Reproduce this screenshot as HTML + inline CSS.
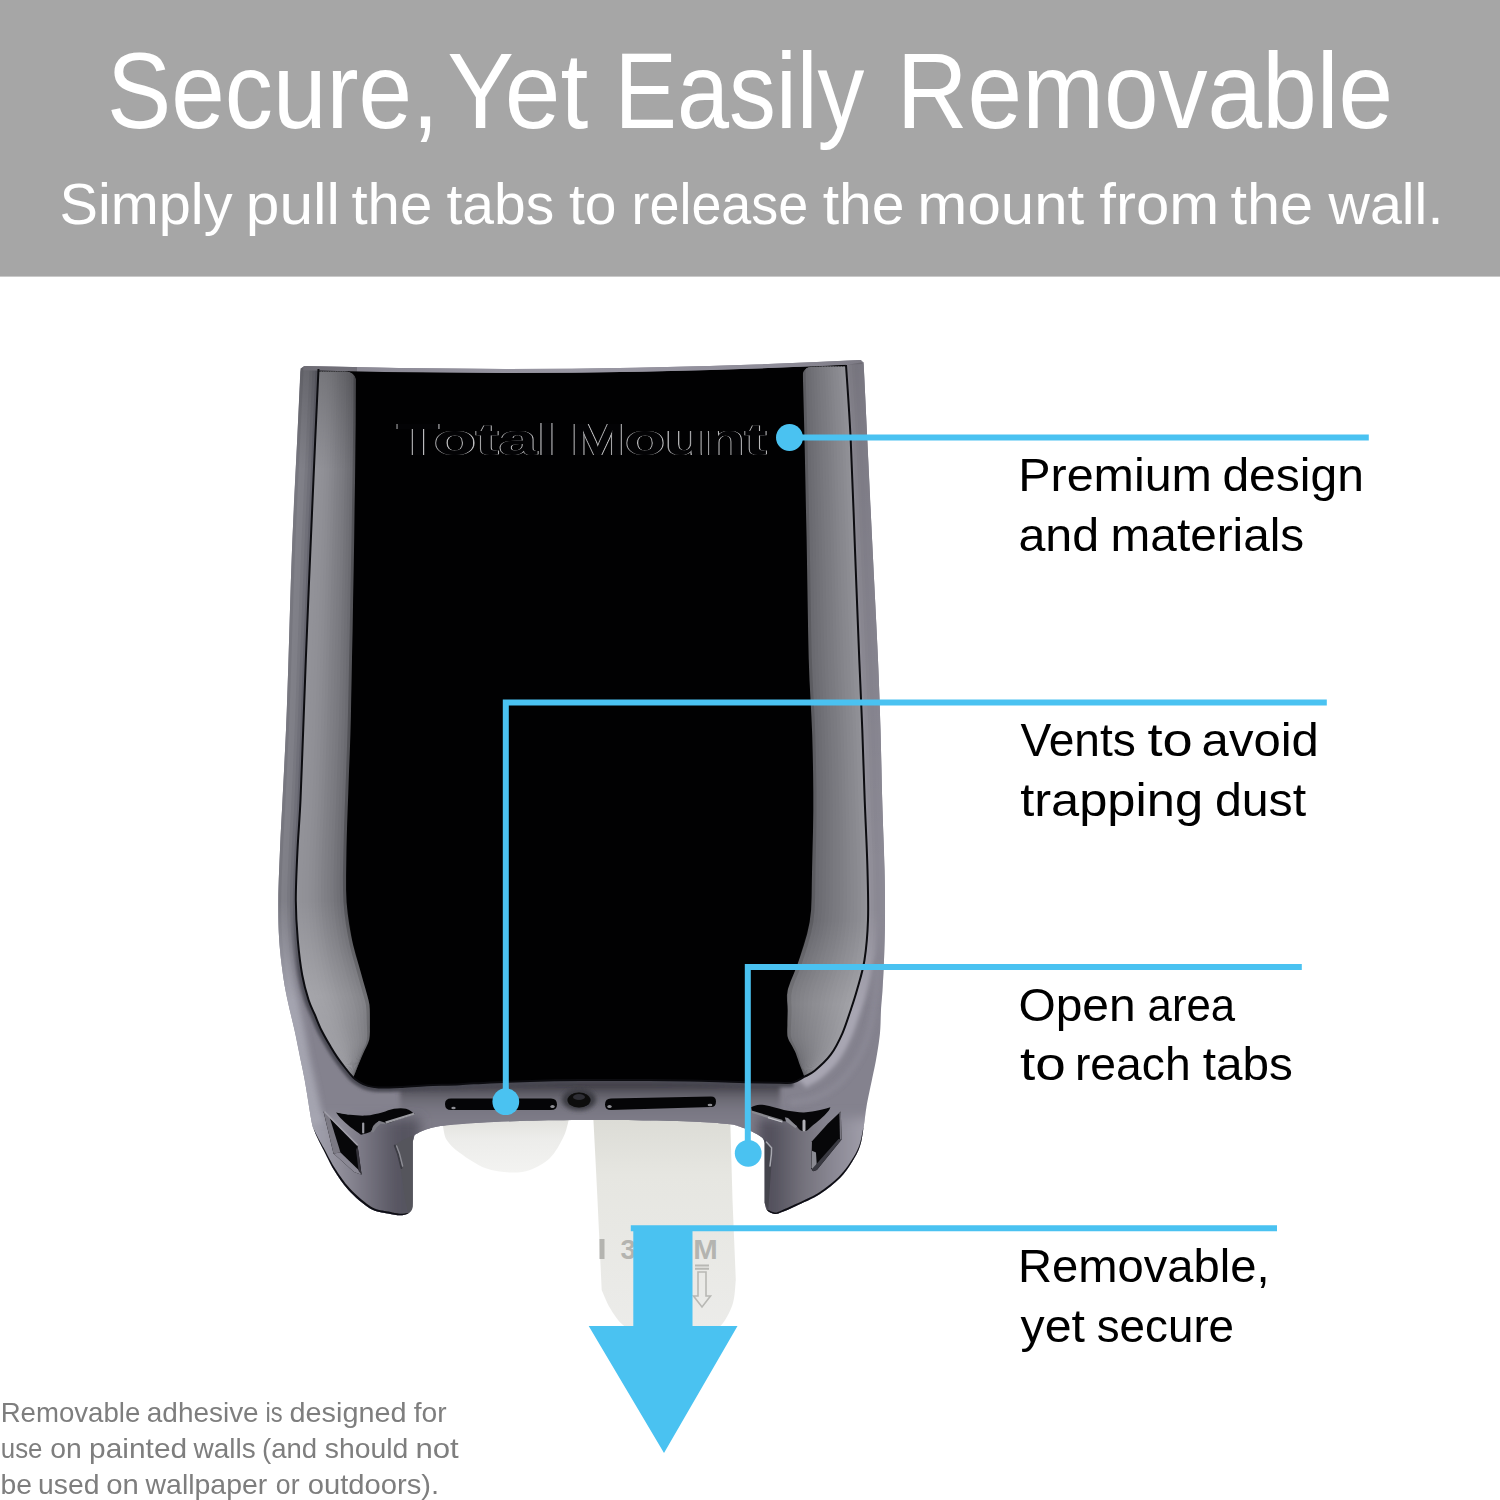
<!DOCTYPE html>
<html>
<head>
<meta charset="utf-8">
<title>Secure, Yet Easily Removable</title>
<style>
html,body{margin:0;padding:0;background:#fff;}
body{width:1500px;height:1500px;overflow:hidden;position:relative;font-family:"Liberation Sans",sans-serif;}
svg{position:absolute;left:0;top:0;display:block;}
text{font-family:"Liberation Sans",sans-serif;}
#hdr,#labels,#foot{filter:grayscale(1);}
</style>
</head>
<body>
<svg width="1500" height="1500" viewBox="0 0 1500 1500">
<defs>
<filter id="b04" x="-10%" y="-10%" width="120%" height="120%"><feGaussianBlur stdDeviation="0.4"/></filter>
<filter id="b06" x="-10%" y="-10%" width="120%" height="120%"><feGaussianBlur stdDeviation="0.6"/></filter>
<filter id="b3" x="-30%" y="-30%" width="160%" height="160%"><feGaussianBlur stdDeviation="3"/></filter>
<filter id="b2" x="-20%" y="-20%" width="140%" height="140%"><feGaussianBlur stdDeviation="2"/></filter>
<filter id="b6" x="-50%" y="-50%" width="200%" height="200%"><feGaussianBlur stdDeviation="6"/></filter>
<linearGradient id="gFadeL" x1="0" y1="900" x2="0" y2="1000" gradientUnits="userSpaceOnUse"><stop offset="0" stop-color="#fff"/><stop offset="1" stop-color="#000"/></linearGradient>
<mask id="mFadeL" maskUnits="userSpaceOnUse" x="270" y="350" width="60" height="660"><rect x="270" y="350" width="60" height="660" fill="url(#gFadeL)"/></mask>
<linearGradient id="gFadeR" x1="0" y1="910" x2="0" y2="1010" gradientUnits="userSpaceOnUse"><stop offset="0" stop-color="#fff"/><stop offset="1" stop-color="#000"/></linearGradient>
<mask id="mFadeR" maskUnits="userSpaceOnUse" x="840" y="350" width="60" height="670"><rect x="840" y="350" width="60" height="670" fill="url(#gFadeR)"/></mask>
<linearGradient id="gDarkTop" x1="0" y1="362" x2="0" y2="870" gradientUnits="userSpaceOnUse"><stop offset="0" stop-color="#000" stop-opacity=".14"/><stop offset=".15" stop-color="#000" stop-opacity=".1"/><stop offset=".65" stop-color="#000" stop-opacity=".04"/><stop offset="1" stop-color="#000" stop-opacity="0"/></linearGradient>
<linearGradient id="gLegL" x1="305" y1="0" x2="398" y2="0" gradientUnits="userSpaceOnUse"><stop offset="0" stop-color="#a8a8b4"/><stop offset=".4" stop-color="#8e8c98"/><stop offset="1" stop-color="#565460"/></linearGradient>
<linearGradient id="gLegR" x1="772" y1="0" x2="872" y2="0" gradientUnits="userSpaceOnUse"><stop offset="0" stop-color="#52505c"/><stop offset=".3" stop-color="#73717b"/><stop offset=".7" stop-color="#908e9a"/><stop offset="1" stop-color="#a4a2ae"/></linearGradient>
<filter id="b15" x="-20%" y="-20%" width="140%" height="140%"><feGaussianBlur stdDeviation="1.5"/></filter>
<linearGradient id="gLiftL" x1="0" y1="900" x2="0" y2="1060" gradientUnits="userSpaceOnUse"><stop offset="0" stop-color="#fff" stop-opacity="0"/><stop offset=".6" stop-color="#fff" stop-opacity=".17"/><stop offset="1" stop-color="#fff" stop-opacity=".1"/></linearGradient>
<linearGradient id="gLiftR" x1="0" y1="920" x2="0" y2="1060" gradientUnits="userSpaceOnUse"><stop offset="0" stop-color="#fff" stop-opacity="0"/><stop offset=".6" stop-color="#fff" stop-opacity=".15"/><stop offset="1" stop-color="#fff" stop-opacity=".05"/></linearGradient>
<linearGradient id="gDarkTopL" x1="0" y1="366" x2="0" y2="470" gradientUnits="userSpaceOnUse"><stop offset="0" stop-color="#000" stop-opacity=".2"/><stop offset=".4" stop-color="#000" stop-opacity=".12"/><stop offset="1" stop-color="#000" stop-opacity="0"/></linearGradient>
<clipPath id="cBL"><path d="M290 371.5H344.5Q356.5 371.5 356.5 384V900H400V1100H290Z"/></clipPath>
<clipPath id="cBR"><path d="M900 366.5H814Q802.2 366.5 802.2 378V900H760V1100H900Z"/></clipPath>
<clipPath id="cSil"><path d="M306.5 366.1Q580 374 859 360Q863.4 360 863.7 364.5L867.3 440.0C868.2 458.3 870.8 513.3 872.6 550.0C874.4 586.7 876.7 630.0 878.0 660.0C879.3 690.0 879.8 706.7 880.5 730.0C881.2 753.3 881.5 776.7 882.2 800.0C882.9 823.3 884.0 850.0 884.5 870.0C885.0 890.0 885.1 905.0 885.0 920.0C884.9 935.0 884.4 948.3 884.0 960.0C883.6 971.7 883.0 981.7 882.5 990.0C882.0 998.3 881.4 1002.8 881.0 1010.0C880.6 1017.2 880.8 1024.7 880.0 1033.0C879.2 1041.3 877.4 1052.2 876.0 1060.0C874.6 1067.8 873.5 1072.2 871.9 1080.0C870.3 1087.8 867.9 1098.7 866.5 1106.7C865.1 1114.7 864.6 1121.5 863.5 1128.0C862.4 1134.5 861.9 1140.3 860.0 1146.0C858.1 1151.7 855.3 1156.7 852.0 1162.0C848.7 1167.3 845.3 1172.7 840.0 1178.0C834.7 1183.3 827.3 1189.3 820.0 1194.0C812.7 1198.7 802.3 1203.0 796.0 1206.0C789.7 1209.0 785.5 1210.7 782.0 1212.0C778.5 1213.3 777.2 1214.2 774.8 1213.9C772.3 1213.7 769.0 1212.4 767.3 1210.5C765.6 1208.6 765.1 1204.0 764.7 1202.7L764.7 1143L764.7 1143.0C764.2 1142.1 764.2 1139.6 762.0 1137.6C759.8 1135.6 754.8 1133.0 751.3 1131.2C747.8 1129.4 744.2 1128.2 740.7 1127.0C737.2 1125.8 736.8 1125.1 730.0 1124.3C723.2 1123.5 713.3 1122.6 700.0 1122.0C686.7 1121.4 670.0 1120.8 650.0 1120.5C630.0 1120.2 601.7 1119.9 580.0 1120.0C558.3 1120.1 536.7 1120.5 520.0 1121.0C503.3 1121.5 492.2 1122.0 480.0 1122.7C467.8 1123.4 455.6 1124.2 446.7 1125.3C437.8 1126.4 432.1 1127.7 426.7 1129.3C421.3 1130.9 416.5 1134.0 414.5 1135.0L412.7 1142L412.7 1200L412.7 1200.0C412.6 1201.3 412.8 1205.8 412.0 1208.0C411.2 1210.2 410.0 1212.3 408.0 1213.5C406.0 1214.7 403.3 1215.3 400.0 1215.3C396.7 1215.3 393.0 1214.6 388.0 1213.5C383.0 1212.4 376.6 1212.4 370.0 1208.5C363.4 1204.6 354.4 1196.4 348.4 1190.0C342.4 1183.6 338.1 1176.7 334.0 1170.0C329.9 1163.3 326.2 1155.0 323.6 1150.0C321.0 1145.0 320.1 1143.3 318.5 1140.0C316.9 1136.7 315.2 1133.3 314.0 1130.0C312.8 1126.7 312.9 1128.3 311.3 1120.0C309.8 1111.7 306.6 1090.5 304.7 1080.0C302.8 1069.5 301.7 1065.3 300.0 1057.0C298.3 1048.7 296.6 1039.5 294.5 1030.0C292.4 1020.5 289.4 1009.2 287.5 1000.0C285.6 990.8 284.4 985.0 283.0 975.0C281.6 965.0 280.0 952.5 279.2 940.0C278.4 927.5 278.2 915.0 278.3 900.0C278.4 885.0 279.3 866.7 280.0 850.0C280.7 833.3 281.5 820.0 282.5 800.0C283.5 780.0 285.0 753.3 286.0 730.0C287.0 706.7 287.5 690.0 288.5 660.0C289.5 630.0 290.6 586.7 292.0 550.0C293.4 513.3 296.3 458.3 297.2 440.0L300.3 372Q300.5 366.1 306.5 366.1Z"/></clipPath>
<linearGradient id="gTabL" x1="0" y1="1120" x2="0" y2="1172" gradientUnits="userSpaceOnUse"><stop offset="0" stop-color="#e2e2de"/><stop offset=".35" stop-color="#ececea"/><stop offset="1" stop-color="#f3f3f1"/></linearGradient>
<linearGradient id="gStrip" x1="0" y1="1120" x2="0" y2="1340" gradientUnits="userSpaceOnUse"><stop offset="0" stop-color="#dcdcd6"/><stop offset=".25" stop-color="#e6e6e1"/><stop offset="1" stop-color="#ececea"/></linearGradient>
<linearGradient id="gCentre" x1="0" y1="1081" x2="0" y2="1121" gradientUnits="userSpaceOnUse"><stop offset="0" stop-color="#34323a"/><stop offset=".15" stop-color="#48464e"/><stop offset=".3" stop-color="#5c5a64"/><stop offset=".45" stop-color="#6c6a74"/><stop offset=".7" stop-color="#787682"/><stop offset="1" stop-color="#7e7c88"/></linearGradient>
<linearGradient id="gRim" x1="300" y1="0" x2="864" y2="0" gradientUnits="userSpaceOnUse"><stop offset="0" stop-color="#8a8892"/><stop offset=".15" stop-color="#8e8c98"/><stop offset=".5" stop-color="#9a98a4"/><stop offset=".85" stop-color="#8e8c98"/><stop offset="1" stop-color="#7c7a84"/></linearGradient>
<linearGradient id="gLL" x1="312" y1="1000" x2="372" y2="1020" gradientUnits="userSpaceOnUse"><stop offset="0" stop-color="#828288"/><stop offset=".5" stop-color="#8e8e94"/><stop offset="1" stop-color="#7a7a80"/></linearGradient>
<linearGradient id="gLR" x1="787" y1="1030" x2="850" y2="1010" gradientUnits="userSpaceOnUse"><stop offset="0" stop-color="#6c6c72"/><stop offset=".5" stop-color="#828288"/><stop offset="1" stop-color="#707076"/></linearGradient>
</defs>
<!-- header -->
<rect x="0" y="0" width="1500" height="276.6" fill="#a6a6a6"/>
<g id="hdr" fill="#fff">
<g font-size="107">
<text x="107.00" y="128.3" textLength="331.78" lengthAdjust="spacingAndGlyphs">Secure,</text>
<text x="447.19" y="128.3" textLength="141.05" lengthAdjust="spacingAndGlyphs">Yet</text>
<text x="614.52" y="128.3" textLength="249.85" lengthAdjust="spacingAndGlyphs">Easily</text>
<text x="896.75" y="128.3" textLength="496.34" lengthAdjust="spacingAndGlyphs">Removable</text>
</g>
<g font-size="57">
<text x="59.46" y="223.6" textLength="173.07" lengthAdjust="spacingAndGlyphs">Simply</text>
<text x="245.75" y="223.6" textLength="94.21" lengthAdjust="spacingAndGlyphs">pull</text>
<text x="351.48" y="223.6" textLength="80.81" lengthAdjust="spacingAndGlyphs">the</text>
<text x="446.50" y="223.6" textLength="107.75" lengthAdjust="spacingAndGlyphs">tabs</text>
<text x="569.00" y="223.6" textLength="47.55" lengthAdjust="spacingAndGlyphs">to</text>
<text x="631.52" y="223.6" textLength="176.67" lengthAdjust="spacingAndGlyphs">release</text>
<text x="822.67" y="223.6" textLength="81.86" lengthAdjust="spacingAndGlyphs">the</text>
<text x="917.39" y="223.6" textLength="166.86" lengthAdjust="spacingAndGlyphs">mount</text>
<text x="1099.35" y="223.6" textLength="119.86" lengthAdjust="spacingAndGlyphs">from</text>
<text x="1230.46" y="223.6" textLength="82.59" lengthAdjust="spacingAndGlyphs">the</text>
<text x="1328.40" y="223.6" textLength="114.97" lengthAdjust="spacingAndGlyphs">wall.</text>
</g>
</g>
<!-- PRODUCT -->
<g id="product">
<path d="M440.0 1118.0C440.4 1119.2 441.6 1121.3 442.7 1125.0C443.8 1128.7 443.8 1135.3 446.7 1140.0C449.6 1144.7 453.6 1148.3 460.0 1153.0C466.4 1157.7 476.7 1164.8 485.0 1168.0C493.3 1171.2 502.5 1172.2 510.0 1172.5C517.5 1172.8 523.3 1172.4 530.0 1170.0C536.7 1167.6 544.5 1163.3 550.0 1158.0C555.5 1152.7 560.0 1143.8 563.0 1138.0C566.0 1132.2 567.0 1126.7 568.0 1123.0C569.0 1119.3 568.8 1117.2 569.0 1116.0Z" fill="url(#gTabL)" filter="url(#b06)"/>
<path d="M593 1112L595.5 1160L597.5 1200L601.7 1290L601.7 1290.0C603.1 1293.0 606.5 1302.2 610.0 1308.0C613.5 1313.8 617.2 1320.2 623.0 1325.0C628.8 1329.8 637.7 1334.5 645.0 1337.0C652.3 1339.5 659.5 1340.0 667.0 1340.0C674.5 1340.0 682.5 1338.7 690.0 1337.0C697.5 1335.3 706.5 1332.3 712.0 1330.0C717.5 1327.7 719.5 1327.5 723.0 1323.0C726.5 1318.5 730.9 1310.2 733.0 1303.0C735.1 1295.8 735.3 1283.8 735.8 1280.0L732.5 1200L730 1112Z" fill="url(#gStrip)" filter="url(#b06)"/>
<g fill="#b4b4b0" font-weight="bold" font-size="28"><text x="620.5" y="1259.3">3</text><text x="693.2" y="1259.3" textLength="24.5" lengthAdjust="spacingAndGlyphs">M</text><rect x="599.5" y="1239" width="5" height="20"/></g>
<g fill="none" stroke="#b8b8b4" stroke-width="1.6"><path d="M698 1272V1296H693.5L702 1307L710.5 1296H706V1272Z"/><path d="M695 1265.5H709M695 1268.8H709" stroke-width="2"/></g>
<path d="M306.5 366.1Q580 374 859 360Q863.4 360 863.7 364.5L867.3 440.0C868.2 458.3 870.8 513.3 872.6 550.0C874.4 586.7 876.7 630.0 878.0 660.0C879.3 690.0 879.8 706.7 880.5 730.0C881.2 753.3 881.5 776.7 882.2 800.0C882.9 823.3 884.0 850.0 884.5 870.0C885.0 890.0 885.1 905.0 885.0 920.0C884.9 935.0 884.4 948.3 884.0 960.0C883.6 971.7 883.0 981.7 882.5 990.0C882.0 998.3 881.4 1002.8 881.0 1010.0C880.6 1017.2 880.8 1024.7 880.0 1033.0C879.2 1041.3 877.4 1052.2 876.0 1060.0C874.6 1067.8 873.5 1072.2 871.9 1080.0C870.3 1087.8 867.9 1098.7 866.5 1106.7C865.1 1114.7 864.6 1121.5 863.5 1128.0C862.4 1134.5 861.9 1140.3 860.0 1146.0C858.1 1151.7 855.3 1156.7 852.0 1162.0C848.7 1167.3 845.3 1172.7 840.0 1178.0C834.7 1183.3 827.3 1189.3 820.0 1194.0C812.7 1198.7 802.3 1203.0 796.0 1206.0C789.7 1209.0 785.5 1210.7 782.0 1212.0C778.5 1213.3 777.2 1214.2 774.8 1213.9C772.3 1213.7 769.0 1212.4 767.3 1210.5C765.6 1208.6 765.1 1204.0 764.7 1202.7L764.7 1143L764.7 1143.0C764.2 1142.1 764.2 1139.6 762.0 1137.6C759.8 1135.6 754.8 1133.0 751.3 1131.2C747.8 1129.4 744.2 1128.2 740.7 1127.0C737.2 1125.8 736.8 1125.1 730.0 1124.3C723.2 1123.5 713.3 1122.6 700.0 1122.0C686.7 1121.4 670.0 1120.8 650.0 1120.5C630.0 1120.2 601.7 1119.9 580.0 1120.0C558.3 1120.1 536.7 1120.5 520.0 1121.0C503.3 1121.5 492.2 1122.0 480.0 1122.7C467.8 1123.4 455.6 1124.2 446.7 1125.3C437.8 1126.4 432.1 1127.7 426.7 1129.3C421.3 1130.9 416.5 1134.0 414.5 1135.0L412.7 1142L412.7 1200L412.7 1200.0C412.6 1201.3 412.8 1205.8 412.0 1208.0C411.2 1210.2 410.0 1212.3 408.0 1213.5C406.0 1214.7 403.3 1215.3 400.0 1215.3C396.7 1215.3 393.0 1214.6 388.0 1213.5C383.0 1212.4 376.6 1212.4 370.0 1208.5C363.4 1204.6 354.4 1196.4 348.4 1190.0C342.4 1183.6 338.1 1176.7 334.0 1170.0C329.9 1163.3 326.2 1155.0 323.6 1150.0C321.0 1145.0 320.1 1143.3 318.5 1140.0C316.9 1136.7 315.2 1133.3 314.0 1130.0C312.8 1126.7 312.9 1128.3 311.3 1120.0C309.8 1111.7 306.6 1090.5 304.7 1080.0C302.8 1069.5 301.7 1065.3 300.0 1057.0C298.3 1048.7 296.6 1039.5 294.5 1030.0C292.4 1020.5 289.4 1009.2 287.5 1000.0C285.6 990.8 284.4 985.0 283.0 975.0C281.6 965.0 280.0 952.5 279.2 940.0C278.4 927.5 278.2 915.0 278.3 900.0C278.4 885.0 279.3 866.7 280.0 850.0C280.7 833.3 281.5 820.0 282.5 800.0C283.5 780.0 285.0 753.3 286.0 730.0C287.0 706.7 287.5 690.0 288.5 660.0C289.5 630.0 290.6 586.7 292.0 550.0C293.4 513.3 296.3 458.3 297.2 440.0L300.3 372Q300.5 366.1 306.5 366.1Z" fill="#84828e"/>
<g clip-path="url(#cSil)"><path d="M400 1078H780V1140H400Z" fill="url(#gCentre)" filter="url(#b2)"/>
<path d="M296 1118H420V1240H296Z" fill="url(#gLegL)" filter="url(#b6)"/>
<path d="M758 1118H884V1240H758Z" fill="url(#gLegR)" filter="url(#b6)"/>
<path d="M279.0 900.0C279.2 906.7 279.1 926.7 280.0 940.0C280.9 953.3 282.9 969.0 284.5 980.0C286.1 991.0 287.8 997.2 289.5 1006.0C291.2 1014.8 293.2 1024.0 295.0 1033.0C296.8 1042.0 298.3 1051.8 300.0 1060.0C301.7 1068.2 303.3 1074.5 305.0 1082.0C306.7 1089.5 308.3 1097.8 310.0 1105.0C311.7 1112.2 314.2 1121.7 315.0 1125.0" fill="none" stroke="#a8a8b4" stroke-width="20" filter="url(#b3)" opacity=".9"/>
<path d="M295.8 900.0C296.1 906.7 296.7 927.5 297.8 940.0C298.9 952.5 300.4 965.0 302.2 975.0C304.0 985.0 306.5 993.4 308.6 1000.0C310.7 1006.6 312.7 1009.7 314.8 1014.7C316.9 1019.7 318.7 1024.7 321.3 1030.0C323.9 1035.3 327.8 1041.9 330.5 1046.5C333.2 1051.1 335.2 1054.2 337.5 1057.6C339.8 1061.0 341.9 1063.7 344.5 1067.0C347.1 1070.3 350.4 1074.7 353.0 1077.2C355.6 1079.8 357.5 1080.8 360.0 1082.3C362.5 1083.8 364.9 1085.0 368.0 1085.9C371.1 1086.8 373.4 1087.3 378.7 1087.5C384.0 1087.7 392.0 1087.3 400.0 1086.9C408.0 1086.5 416.7 1085.7 426.7 1085.2C436.7 1084.8 449.4 1084.7 460.0 1084.2C470.6 1083.7 478.3 1082.9 490.0 1082.4C501.7 1081.9 515.0 1081.4 530.0 1081.0C545.0 1080.6 560.0 1080.3 580.0 1080.1C600.0 1079.9 631.7 1080.0 650.0 1080.0C668.3 1080.0 675.0 1080.1 690.0 1080.4C705.0 1080.7 725.0 1081.6 740.0 1082.0C755.0 1082.4 771.1 1082.7 780.0 1082.8C788.9 1082.9 791.1 1082.5 793.3 1082.4" fill="none" stroke="#4a4852" stroke-width="9" filter="url(#b15)"/>
<path d="M800.0 1081.0C800.7 1080.3 801.5 1078.7 804.0 1077.0C806.5 1075.3 810.2 1074.4 814.7 1070.7C819.2 1067.0 826.1 1060.9 830.7 1054.7C835.3 1048.5 839.1 1040.8 842.4 1033.3C845.7 1025.8 849.3 1013.9 850.7 1010.0C852.1 1006.1 849.7 1013.3 850.7 1010.0C851.8 1006.7 854.7 998.3 857.0 990.0C859.3 981.7 862.7 971.7 864.5 960.0C866.3 948.3 867.5 935.0 868.0 920.0C868.5 905.0 867.6 878.3 867.5 870.0" fill="none" stroke="#a8a6b2" stroke-width="20" filter="url(#b2)"/>
<path d="M878.0 960.0C877.5 966.7 876.7 987.5 875.0 1000.0C873.3 1012.5 871.2 1024.7 868.0 1035.0C864.8 1045.3 861.0 1053.8 856.0 1062.0C851.0 1070.2 844.8 1078.0 838.0 1084.0C831.2 1090.0 823.0 1094.8 815.0 1098.0C807.0 1101.2 794.2 1102.2 790.0 1103.0" fill="none" stroke="#8a8894" stroke-width="7" filter="url(#b2)" opacity=".9"/>
<path d="M314.0 1130.0C314.4 1131.8 315.4 1137.4 316.7 1140.9C318.0 1144.4 319.2 1145.9 321.8 1150.9C324.4 1155.9 328.1 1164.3 332.3 1171.1C336.5 1177.8 340.8 1184.8 346.9 1191.4C353.1 1197.9 362.2 1206.2 369.0 1210.2C375.7 1214.2 382.4 1214.3 387.6 1215.5C392.7 1216.6 396.4 1217.3 400.0 1217.3C403.6 1217.3 407.8 1215.8 409.4 1215.5L408.8 1212.7C407.4 1212.9 403.4 1213.9 400.0 1213.7C396.6 1213.5 393.2 1212.8 388.4 1211.6C383.6 1210.5 377.5 1210.5 371.1 1206.7C364.7 1202.8 355.9 1194.8 349.9 1188.6C344.0 1182.3 339.7 1175.6 335.4 1169.1C331.2 1162.6 327.3 1154.4 324.6 1149.5C321.9 1144.6 320.9 1143.0 319.1 1139.7C317.4 1136.4 315.0 1131.5 314.2 1129.9Z" fill="#0e0e12" filter="url(#b04)"/>
<path d="M863.5 1128.0C863.2 1131.1 863.5 1140.8 861.9 1146.6C860.3 1152.5 857.1 1157.6 853.7 1163.1C850.3 1168.5 846.9 1174.0 841.4 1179.4C836.0 1184.9 828.5 1191.0 821.1 1195.7C813.6 1200.4 803.3 1204.8 796.9 1207.8C790.5 1210.8 786.4 1212.5 782.7 1213.9C779.0 1215.2 777.3 1216.1 774.6 1215.9C771.9 1215.6 767.8 1212.9 766.5 1212.3L767.6 1209.8C768.8 1210.2 772.6 1212.4 774.9 1212.5C777.2 1212.6 778.0 1211.8 781.4 1210.4C784.8 1209.0 788.9 1207.3 795.2 1204.3C801.4 1201.3 811.7 1197.0 819.0 1192.4C826.2 1187.8 833.5 1182.0 838.8 1176.8C844.1 1171.6 847.5 1166.5 850.9 1161.3C854.3 1156.1 857.2 1151.3 859.2 1145.7C861.3 1140.2 862.6 1130.9 863.3 1128.0Z" fill="#0e0e12" filter="url(#b04)"/></g>
<g mask="url(#mFadeL)"><path d="M300.7 368.0L300.0 382.2L299.0 402.7L297.8 427.1L296.5 453.7L295.0 484.5L293.4 517.5L292.0 550.0L290.8 582.6L289.8 615.7L288.9 646.4L288.1 672.1L287.4 692.8L286.8 711.2L286.0 730.0L285.0 750.6L284.0 771.4L283.0 791.0L282.1 808.2L281.3 822.8L280.6 836.3L280.0 850.0L279.4 864.6L278.8 879.3L278.4 893.4L278.3 906.3L278.4 918.1L278.7 929.2L279.2 940.0L280.1 950.7L281.2 961.0L282.4 970.6L283.6 979.3L285.1 987.7L286.5 995.0L287.5 1000.0L292.8 1000.0L291.7 995.0L290.1 987.7L288.5 979.3L287.2 970.6L285.9 961.0L284.7 950.7L283.9 940.0L283.2 929.2L282.8 918.1L282.7 906.3L282.8 893.4L283.2 879.3L283.7 864.6L284.4 850.0L285.0 836.3L285.8 822.8L286.6 808.2L287.4 791.0L288.4 771.4L289.4 750.6L290.3 730.0L291.0 711.2L291.7 692.8L292.4 672.1L293.3 646.4L294.3 615.7L295.4 582.6L296.6 550.0L298.0 517.5L299.6 484.5L301.0 453.7L302.3 427.1L303.5 402.8L304.5 382.4L305.1 368.2Z" fill="#77777f"/>
<path d="M303.7 368.2L303.0 382.3L302.0 402.8L300.8 427.1L299.5 453.7L298.0 484.5L296.5 517.5L295.1 550.0L293.9 582.6L292.8 615.7L291.8 646.4L291.0 672.1L290.3 692.8L289.6 711.2L288.9 730.0L287.9 750.6L286.9 771.4L285.9 791.0L285.1 808.2L284.3 822.8L283.6 836.3L282.9 850.0L282.3 864.6L281.7 879.3L281.3 893.4L281.2 906.3L281.3 918.1L281.7 929.2L282.3 940.0L283.2 950.7L284.3 961.0L285.6 970.6L286.9 979.3L288.5 987.7L290.0 995.0L291.0 1000.0L296.3 1000.0L295.1 995.0L293.5 987.7L291.7 979.3L290.3 970.6L289.0 961.0L287.9 950.7L286.9 940.0L286.3 929.2L285.8 918.1L285.6 906.3L285.7 893.4L286.1 879.3L286.6 864.6L287.3 850.0L288.0 836.3L288.8 822.8L289.6 808.2L290.4 791.0L291.4 771.4L292.3 750.6L293.2 730.0L293.9 711.2L294.6 692.8L295.3 672.1L296.2 646.4L297.2 615.7L298.4 582.6L299.7 550.0L301.1 517.5L302.6 484.5L304.1 453.7L305.3 427.1L306.5 402.9L307.4 382.5L308.1 368.4Z" fill="#808088"/>
<path d="M306.6 368.3L306.0 382.5L305.0 402.8L303.8 427.1L302.6 453.7L301.1 484.5L299.5 517.5L298.1 550.0L296.9 582.6L295.8 615.7L294.7 646.4L293.8 672.1L293.1 692.8L292.5 711.2L291.7 730.0L290.8 750.6L289.9 771.4L288.9 791.0L288.1 808.2L287.3 822.8L286.5 836.3L285.8 850.0L285.2 864.6L284.6 879.3L284.2 893.4L284.1 906.3L284.3 918.1L284.8 929.2L285.4 940.0L286.3 950.7L287.5 961.0L288.7 970.6L290.1 979.3L291.8 987.7L293.4 995.0L294.5 1000.0L299.8 1000.0L298.6 995.0L296.8 987.7L295.0 979.3L293.5 970.6L292.2 961.0L291.0 950.7L290.1 940.0L289.3 929.2L288.8 918.1L288.5 906.3L288.6 893.4L289.0 879.3L289.5 864.6L290.2 850.0L290.9 836.3L291.7 822.8L292.6 808.2L293.4 791.0L294.3 771.4L295.2 750.6L296.0 730.0L296.8 711.2L297.4 692.8L298.1 672.1L299.1 646.4L300.2 615.7L301.4 582.6L302.7 550.0L304.1 517.4L305.6 484.4L307.1 453.7L308.3 427.1L309.4 402.9L310.4 382.7L311.1 368.6Z" fill="#7f7f87"/>
<path d="M309.6 368.5L308.9 382.6L307.9 402.9L306.8 427.1L305.6 453.7L304.1 484.4L302.6 517.4L301.2 550.0L299.9 582.6L298.7 615.7L297.6 646.4L296.7 672.1L296.0 692.8L295.3 711.2L294.6 730.0L293.7 750.6L292.8 771.4L291.9 791.0L291.1 808.2L290.2 822.8L289.4 836.3L288.8 850.0L288.1 864.6L287.5 879.3L287.1 893.4L287.1 906.3L287.3 918.1L287.8 929.2L288.5 940.0L289.4 950.7L290.6 961.0L291.9 970.6L293.4 979.3L295.1 987.7L296.9 995.0L298.0 1000.0L303.3 1000.0L302.0 995.0L300.1 987.7L298.2 979.3L296.7 970.6L295.3 961.0L294.1 950.7L293.1 940.0L292.4 929.2L291.8 918.1L291.5 906.3L291.5 893.4L291.9 879.3L292.5 864.6L293.1 850.0L293.9 836.3L294.7 822.8L295.6 808.2L296.4 791.0L297.3 771.4L298.1 750.6L298.9 730.0L299.6 711.2L300.3 692.8L301.0 672.1L302.0 646.4L303.2 615.7L304.5 582.6L305.8 550.0L307.2 517.4L308.7 484.4L310.1 453.7L311.3 427.2L312.4 403.0L313.4 382.8L314.1 368.8Z" fill="#787880"/>
<path d="M312.6 368.7L311.9 382.7L310.9 403.0L309.8 427.2L308.6 453.7L307.2 484.4L305.7 517.4L304.3 550.0L303.0 582.6L301.7 615.7L300.5 646.4L299.6 672.1L298.8 692.8L298.2 711.2L297.5 730.0L296.6 750.6L295.8 771.4L294.9 791.0L294.1 808.2L293.2 822.8L292.4 836.3L291.7 850.0L291.0 864.6L290.4 879.3L290.0 893.4L290.0 906.3L290.3 918.1L290.8 929.2L291.6 940.0L292.6 950.7L293.8 961.0L295.1 970.6L296.6 979.3L298.5 987.7L300.3 995.0L301.6 1000.0L306.8 1000.0L305.5 995.0L303.5 987.7L301.4 979.3L299.9 970.6L298.5 961.0L297.3 950.7L296.2 940.0L295.4 929.2L294.8 918.1L294.4 906.3L294.4 893.4L294.8 879.3L295.4 864.6L296.0 850.0L296.8 836.3L297.7 822.8L298.6 808.2L299.4 791.0L300.2 771.4L301.0 750.6L301.8 730.0L302.5 711.2L303.1 692.8L303.9 672.1L304.9 646.4L306.1 615.7L307.5 582.6L308.9 550.0L310.3 517.4L311.7 484.4L313.1 453.7L314.3 427.2L315.4 403.1L316.4 382.9L317.0 368.9Z" fill="#707079"/>
<path d="M315.5 368.8L314.9 382.8L313.9 403.0L312.8 427.2L311.6 453.7L310.2 484.4L308.7 517.4L307.3 550.0L306.0 582.6L304.7 615.7L303.4 646.4L302.5 672.1L301.7 692.8L301.0 711.2L300.3 730.0L299.5 750.6L298.7 771.4L297.9 791.0L297.1 808.2L296.2 822.8L295.3 836.3L294.6 850.0L293.9 864.6L293.3 879.3L292.9 893.4L292.9 906.3L293.3 918.1L293.9 929.2L294.7 940.0L295.7 950.7L296.9 961.0L298.3 970.6L299.8 979.3L301.8 987.7L303.7 995.0L305.1 1000.0L308.6 1000.0L307.2 995.0L305.1 987.7L303.1 979.3L301.4 970.6L300.0 961.0L298.8 950.7L297.8 940.0L296.9 929.2L296.3 918.1L295.9 906.3L295.8 893.4L296.2 879.3L296.8 864.6L297.5 850.0L298.3 836.3L299.2 822.8L300.1 808.2L300.9 791.0L301.7 771.4L302.4 750.6L303.2 730.0L303.9 711.2L304.6 692.8L305.3 672.1L306.4 646.4L307.6 615.7L309.0 582.6L310.4 550.0L311.8 517.4L313.2 484.4L314.6 453.7L315.8 427.2L316.9 403.1L317.8 383.0L318.5 369.0Z" fill="#64646e"/></g>
<g mask="url(#mFadeR)"><path d="M846.0 365.0L847.0 379.9L848.5 401.5L850.0 426.8L851.3 453.9L852.6 484.7L853.8 517.6L855.0 550.0L856.3 582.6L857.5 615.7L858.8 646.4L859.8 672.1L860.7 692.8L861.5 711.2L862.3 730.0L863.0 750.0L863.7 770.0L864.3 790.0L865.1 810.2L866.0 831.0L866.9 851.5L867.5 870.0L867.9 886.0L868.2 900.3L868.2 913.6L867.7 926.3L867.0 938.4L865.9 949.6L864.5 960.0L862.6 969.6L860.3 978.4L858.0 986.3L856.0 993.6L853.9 1000.3L852.0 1006.0L850.7 1010.0L858.3 1010.0L859.3 1006.0L860.9 1000.3L862.6 993.6L864.2 986.3L866.0 978.4L867.9 969.6L869.4 960.0L870.5 949.6L871.4 938.4L872.0 926.3L872.4 913.6L872.4 900.3L872.1 886.0L871.8 870.0L871.1 851.5L870.3 831.0L869.5 810.2L868.7 790.0L868.1 770.0L867.5 750.0L866.8 730.0L866.1 711.2L865.4 692.8L864.5 672.1L863.4 646.4L862.1 615.7L860.8 582.6L859.4 550.0L858.1 517.6L856.8 484.7L855.5 453.9L854.2 426.7L852.7 401.2L851.3 379.4L850.4 364.2Z" fill="#94929c"/>
<path d="M848.9 364.5L849.9 379.6L851.3 401.3L852.8 426.7L854.1 453.9L855.4 484.7L856.7 517.6L857.9 550.0L859.3 582.6L860.6 615.7L861.9 646.4L862.9 672.1L863.8 692.8L864.6 711.2L865.3 730.0L866.0 750.0L866.6 770.0L867.3 790.0L868.0 810.2L868.9 831.0L869.7 851.5L870.3 870.0L870.7 886.0L871.0 900.3L871.0 913.6L870.6 926.3L869.9 938.4L869.0 949.6L867.8 960.0L866.1 969.6L864.1 978.4L862.2 986.3L860.4 993.6L858.5 1000.3L856.9 1006.0L855.8 1010.0L863.3 1010.0L864.2 1006.0L865.5 1000.3L866.9 993.6L868.3 986.3L869.9 978.4L871.4 969.6L872.6 960.0L873.6 949.6L874.4 938.4L874.9 926.3L875.2 913.6L875.2 900.3L875.0 886.0L874.6 870.0L874.0 851.5L873.2 831.0L872.4 810.2L871.7 790.0L871.1 770.0L870.5 750.0L869.9 730.0L869.2 711.2L868.5 692.8L867.6 672.1L866.5 646.4L865.2 615.7L863.7 582.6L862.3 550.0L861.0 517.6L859.6 484.8L858.3 453.9L856.9 426.7L855.5 401.0L854.2 379.0L853.3 363.8Z" fill="#908e98"/>
<path d="M851.8 364.0L852.8 379.2L854.1 401.1L855.6 426.7L856.9 453.9L858.2 484.8L859.5 517.6L860.9 550.0L862.3 582.6L863.7 615.7L865.0 646.4L866.0 672.1L866.9 692.8L867.7 711.2L868.4 730.0L869.0 750.0L869.6 770.0L870.2 790.0L870.9 810.2L871.7 831.0L872.6 851.5L873.2 870.0L873.6 886.0L873.8 900.3L873.8 913.6L873.5 926.3L872.9 938.4L872.1 949.6L871.0 960.0L869.6 969.6L867.9 978.4L866.3 986.3L864.7 993.6L863.2 1000.3L861.8 1006.0L860.8 1010.0L868.4 1010.0L869.1 1006.0L870.2 1000.3L871.3 993.6L872.4 986.3L873.7 978.4L874.9 969.6L875.9 960.0L876.7 949.6L877.3 938.4L877.8 926.3L878.0 913.6L878.0 900.3L877.8 886.0L877.4 870.0L876.8 851.5L876.1 831.0L875.3 810.2L874.6 790.0L874.1 770.0L873.5 750.0L872.9 730.0L872.3 711.2L871.6 692.8L870.7 672.1L869.6 646.4L868.2 615.7L866.7 582.6L865.3 550.0L863.8 517.6L862.4 484.8L861.0 454.0L859.7 426.6L858.3 400.8L857.1 378.6L856.2 363.2Z" fill="#8c8a94"/>
<path d="M854.8 363.5L855.6 378.8L856.9 400.9L858.3 426.6L859.7 454.0L861.0 484.8L862.4 517.6L863.8 550.0L865.2 582.6L866.7 615.7L868.1 646.4L869.2 672.1L870.0 692.8L870.7 711.2L871.4 730.0L872.0 750.0L872.6 770.0L873.1 790.0L873.8 810.2L874.6 831.0L875.4 851.5L876.0 870.0L876.4 886.0L876.6 900.3L876.6 913.6L876.3 926.3L875.8 938.4L875.1 949.6L874.2 960.0L873.1 969.6L871.8 978.4L870.4 986.3L869.1 993.6L867.8 1000.3L866.7 1006.0L865.8 1010.0L873.4 1010.0L874.0 1006.0L874.8 1000.3L875.7 993.6L876.5 986.3L877.5 978.4L878.4 969.6L879.1 960.0L879.8 949.6L880.3 938.4L880.6 926.3L880.8 913.6L880.8 900.3L880.6 886.0L880.2 870.0L879.7 851.5L878.9 831.0L878.2 810.2L877.5 790.0L877.0 770.0L876.5 750.0L876.0 730.0L875.3 711.2L874.7 692.8L873.8 672.1L872.7 646.4L871.3 615.7L869.7 582.6L868.2 550.0L866.7 517.6L865.2 484.9L863.8 454.0L862.5 426.6L861.1 400.5L860.0 378.2L859.1 362.8Z" fill="#8a8893"/>
<path d="M857.7 363.0L858.5 378.4L859.7 400.7L861.1 426.6L862.4 454.0L863.8 484.8L865.3 517.6L866.7 550.0L868.2 582.6L869.8 615.7L871.2 646.4L872.3 672.1L873.1 692.8L873.8 711.2L874.4 730.0L875.0 750.0L875.5 770.0L876.1 790.0L876.7 810.2L877.5 831.0L878.3 851.5L878.8 870.0L879.2 886.0L879.4 900.3L879.4 913.6L879.2 926.3L878.8 938.4L878.2 949.6L877.5 960.0L876.6 969.6L875.6 978.4L874.5 986.3L873.5 993.6L872.5 1000.3L871.5 1006.0L870.9 1010.0L878.5 1010.0L878.9 1006.0L879.5 1000.3L880.1 993.6L880.7 986.3L881.3 978.4L881.9 969.6L882.4 960.0L882.8 949.6L883.2 938.4L883.5 926.3L883.6 913.6L883.6 900.3L883.4 886.0L883.1 870.0L882.5 851.5L881.8 831.0L881.1 810.2L880.5 790.0L880.0 770.0L879.5 750.0L879.0 730.0L878.4 711.2L877.8 692.8L877.0 672.1L875.8 646.4L874.4 615.7L872.7 582.6L871.1 550.0L869.6 517.6L868.1 484.9L866.6 454.0L865.3 426.5L864.0 400.3L862.8 377.9L862.0 362.2Z" fill="#8b8994"/>
<path d="M860.6 362.5L861.4 378.0L862.6 400.4L863.9 426.5L865.2 454.0L866.6 484.9L868.2 517.6L869.7 550.0L871.2 582.6L872.8 615.7L874.3 646.4L875.4 672.1L876.2 692.8L876.9 711.2L877.5 730.0L878.0 750.0L878.5 770.0L879.0 790.0L879.6 810.2L880.4 831.0L881.1 851.5L881.7 870.0L882.0 886.0L882.2 900.3L882.2 913.6L882.1 926.3L881.8 938.4L881.3 949.6L880.8 960.0L880.1 969.6L879.4 978.4L878.6 986.3L877.9 993.6L877.1 1000.3L876.4 1006.0L876.0 1010.0L881.0 1010.0L881.3 1006.0L881.8 1000.3L882.3 993.6L882.7 986.3L883.2 978.4L883.6 969.6L884.0 960.0L884.4 949.6L884.7 938.4L884.9 926.3L885.0 913.6L885.0 900.3L884.8 886.0L884.5 870.0L884.0 851.5L883.2 831.0L882.5 810.2L881.9 790.0L881.5 770.0L881.0 750.0L880.5 730.0L879.9 711.2L879.3 692.8L878.5 672.1L877.4 646.4L875.9 615.7L874.2 582.6L872.6 550.0L871.0 517.6L869.5 484.9L868.0 454.0L866.6 426.5L865.4 400.2L864.3 377.7L863.5 362.0Z" fill="#8c8a95"/></g>
<path d="M318.5 369.5Q580 378 846 364.5L850.7 440.0C851.4 458.3 853.6 513.3 855.0 550.0C856.4 586.7 858.1 630.0 859.3 660.0C860.5 690.0 861.4 706.7 862.3 730.0C863.2 753.3 863.8 776.7 864.7 800.0C865.6 823.3 867.0 850.0 867.5 870.0C868.0 890.0 868.5 905.0 868.0 920.0C867.5 935.0 866.3 948.3 864.5 960.0C862.7 971.7 859.3 981.7 857.0 990.0C854.7 998.3 851.8 1006.7 850.7 1010.0L850.7 1010.0C849.3 1013.9 845.7 1025.8 842.4 1033.3C839.1 1040.8 835.3 1048.5 830.7 1054.7C826.1 1060.9 819.2 1067.0 814.7 1070.7C810.2 1074.4 807.6 1075.0 804.0 1077.0C800.4 1079.0 795.1 1081.5 793.3 1082.4L793.3 1082.4C791.1 1082.5 788.9 1082.9 780.0 1082.8C771.1 1082.7 755.0 1082.4 740.0 1082.0C725.0 1081.6 705.0 1080.7 690.0 1080.4C675.0 1080.1 668.3 1080.0 650.0 1080.0C631.7 1080.0 600.0 1079.9 580.0 1080.1C560.0 1080.3 545.0 1080.6 530.0 1081.0C515.0 1081.4 501.7 1081.9 490.0 1082.4C478.3 1082.9 470.6 1083.7 460.0 1084.2C449.4 1084.7 436.7 1084.8 426.7 1085.2C416.7 1085.7 408.0 1086.5 400.0 1086.9C392.0 1087.3 384.0 1087.7 378.7 1087.5C373.4 1087.3 371.1 1086.8 368.0 1085.9C364.9 1085.0 362.5 1083.8 360.0 1082.3C357.5 1080.8 355.6 1079.8 353.0 1077.2C350.4 1074.7 347.1 1070.3 344.5 1067.0C341.9 1063.7 339.8 1061.0 337.5 1057.6C335.2 1054.2 333.2 1051.1 330.5 1046.5C327.8 1041.9 323.9 1035.3 321.3 1030.0C318.7 1024.7 316.9 1019.7 314.8 1014.7C312.7 1009.7 309.6 1002.5 308.6 1000.0L308.6 1000.0C307.5 995.8 304.0 985.0 302.2 975.0C300.4 965.0 298.9 952.5 297.8 940.0C296.7 927.5 295.9 915.0 295.8 900.0C295.8 885.0 296.7 866.7 297.5 850.0C298.3 833.3 299.6 820.0 300.5 800.0C301.4 780.0 302.3 753.3 303.2 730.0C304.1 706.7 304.6 690.0 305.8 660.0C307.0 630.0 308.8 586.7 310.4 550.0C312.0 513.3 314.4 458.3 315.2 440.0Z" fill="#010102"/>
<path d="M304 366Q580 374 861 360L862.5 364Q580 378.2 303 370.2Z" fill="url(#gRim)"/>
<g clip-path="url(#cBL)"><path d="M318.5 369.0L317.9 382.1L317.0 400.9L316.0 423.4L314.8 447.9L313.6 476.3L312.2 507.3L310.9 538.6L309.6 569.1L308.3 600.6L307.0 631.2L305.9 658.5L305.0 680.6L304.3 699.1L303.7 716.4L303.0 734.8L302.3 754.5L301.6 774.2L300.8 792.6L300.0 808.7L299.2 822.6L298.3 835.4L297.6 848.3L296.9 862.1L296.3 876.1L295.9 889.7L295.8 902.3L296.1 913.8L296.6 924.6L297.4 934.9L298.3 945.1L299.3 955.1L300.6 964.6L301.9 973.5L303.5 981.4L305.2 988.6L307.1 995.0L308.8 1000.7L310.5 1005.2L312.2 1009.0L313.8 1012.5L315.5 1016.5L317.2 1020.6L318.9 1024.7L320.8 1028.9L323.0 1033.4L325.6 1038.1L328.3 1042.7L330.6 1046.7L332.7 1050.1L334.5 1053.1L336.3 1055.9L338.2 1058.6L340.0 1061.2L341.9 1063.6L343.8 1066.2L346.2 1069.0L348.9 1072.3L351.5 1075.4L353.3 1077.5L353.3 1077.5L351.8 1075.3L349.6 1072.2L347.2 1068.9L345.3 1065.9L343.6 1063.3L342.1 1060.8L340.6 1058.1L339.0 1055.3L337.5 1052.5L336.0 1049.5L334.3 1046.1L332.1 1042.0L329.8 1037.5L327.4 1032.8L325.4 1028.4L323.7 1024.1L322.1 1019.9L320.6 1015.8L319.1 1012.0L317.5 1008.6L316.0 1005.1L314.4 1000.6L312.7 995.0L310.9 988.6L309.1 981.4L307.5 973.5L306.0 964.6L304.6 955.1L303.4 945.1L302.4 934.9L301.6 924.6L300.9 913.8L300.6 902.3L300.6 889.7L301.0 876.1L301.6 862.1L302.2 848.3L302.9 835.4L303.7 822.6L304.5 808.7L305.3 792.6L306.0 774.2L306.7 754.5L307.5 734.8L308.1 716.4L308.7 699.1L309.4 680.6L310.2 658.5L311.2 631.2L312.5 600.6L313.7 569.1L314.9 538.6L316.2 507.3L317.5 476.3L318.6 447.9L319.7 423.4L320.6 400.9L321.4 382.2L322.0 369.2Z" fill="#939399"/>
<path d="M320.8 369.1L320.3 382.2L319.4 400.9L318.4 423.4L317.4 447.9L316.2 476.3L314.9 507.3L313.6 538.6L312.3 569.1L311.1 600.6L309.8 631.2L308.7 658.5L307.9 680.6L307.3 699.1L306.6 716.4L306.0 734.8L305.3 754.5L304.5 774.2L303.8 792.6L303.0 808.7L302.2 822.6L301.4 835.4L300.6 848.3L300.0 862.1L299.4 876.1L299.0 889.7L299.0 902.3L299.3 913.8L299.9 924.6L300.7 934.9L301.7 945.1L302.8 955.1L304.2 964.6L305.6 973.5L307.2 981.4L309.0 988.6L310.8 995.0L312.6 1000.7L314.2 1005.1L315.7 1008.7L317.3 1012.2L318.9 1016.0L320.5 1020.1L322.1 1024.3L323.8 1028.6L326.0 1033.0L328.4 1037.7L330.8 1042.2L333.0 1046.3L334.9 1049.7L336.5 1052.7L338.1 1055.5L339.8 1058.3L341.4 1060.9L343.0 1063.4L344.8 1066.0L346.9 1068.9L349.3 1072.3L351.7 1075.3L353.3 1077.5L353.3 1077.5L351.9 1075.3L350.0 1072.1L347.9 1068.7L346.2 1065.7L344.8 1063.1L343.4 1060.5L342.1 1057.8L340.8 1055.0L339.5 1052.1L338.2 1049.1L336.7 1045.6L334.7 1041.6L332.5 1037.1L330.4 1032.4L328.5 1028.0L326.9 1023.7L325.4 1019.5L324.0 1015.4L322.6 1011.6L321.1 1008.3L319.7 1004.9L318.2 1000.6L316.5 995.1L314.6 988.6L312.8 981.4L311.2 973.5L309.6 964.6L308.1 955.1L306.8 945.1L305.8 934.9L304.8 924.6L304.2 913.8L303.8 902.3L303.7 889.7L304.1 876.1L304.6 862.1L305.2 848.3L305.9 835.4L306.7 822.6L307.5 808.7L308.2 792.6L309.0 774.2L309.7 754.5L310.4 734.8L311.1 716.4L311.7 699.1L312.3 680.6L313.1 658.5L314.1 631.2L315.3 600.6L316.5 569.1L317.7 538.6L318.9 507.3L320.1 476.3L321.2 447.9L322.2 423.4L323.1 401.0L323.8 382.3L324.4 369.3Z" fill="#929298"/>
<path d="M323.2 369.2L322.6 382.3L321.9 401.0L320.9 423.4L319.9 447.9L318.8 476.3L317.5 507.3L316.3 538.6L315.1 569.1L313.9 600.6L312.7 631.2L311.6 658.5L310.8 680.6L310.2 699.1L309.6 716.4L308.9 734.8L308.2 754.5L307.5 774.2L306.8 792.6L306.0 808.7L305.2 822.6L304.4 835.4L303.7 848.3L303.1 862.1L302.5 876.1L302.2 889.7L302.2 902.3L302.5 913.8L303.2 924.6L304.1 934.9L305.1 945.1L306.4 955.1L307.8 964.6L309.3 973.5L311.0 981.4L312.8 988.6L314.6 995.1L316.3 1000.6L317.9 1005.0L319.3 1008.5L320.8 1011.8L322.3 1015.6L323.8 1019.7L325.3 1023.9L326.9 1028.2L328.9 1032.6L331.2 1037.3L333.4 1041.8L335.5 1045.9L337.1 1049.3L338.5 1052.3L339.9 1055.1L341.3 1058.0L342.8 1060.6L344.2 1063.2L345.7 1065.8L347.6 1068.8L349.8 1072.2L351.9 1075.3L353.3 1077.5L353.3 1077.5L352.1 1075.3L350.4 1072.1L348.6 1068.6L347.1 1065.6L345.9 1062.8L344.8 1060.2L343.7 1057.4L342.6 1054.6L341.5 1051.7L340.4 1048.7L339.1 1045.2L337.3 1041.2L335.3 1036.6L333.3 1032.0L331.5 1027.6L330.1 1023.3L328.7 1019.1L327.4 1015.0L326.0 1011.2L324.7 1008.1L323.4 1004.8L321.9 1000.6L320.2 995.1L318.4 988.6L316.6 981.4L314.9 973.5L313.2 964.6L311.7 955.1L310.3 945.1L309.1 934.9L308.1 924.6L307.4 913.8L306.9 902.3L306.9 889.7L307.2 876.1L307.7 862.1L308.3 848.3L308.9 835.4L309.7 822.6L310.5 808.7L311.2 792.6L311.9 774.2L312.7 754.5L313.4 734.8L314.0 716.4L314.6 699.1L315.2 680.6L316.0 658.5L316.9 631.2L318.1 600.6L319.2 569.1L320.4 538.6L321.5 507.3L322.7 476.2L323.7 447.9L324.6 423.4L325.5 401.0L326.2 382.4L326.7 369.4Z" fill="#919197"/>
<path d="M325.5 369.4L325.0 382.4L324.3 401.0L323.4 423.4L322.5 447.9L321.4 476.2L320.2 507.3L319.0 538.6L317.9 569.1L316.7 600.6L315.5 631.2L314.5 658.5L313.7 680.6L313.1 699.1L312.5 716.4L311.9 734.8L311.2 754.5L310.5 774.2L309.7 792.6L309.0 808.7L308.2 822.6L307.4 835.4L306.8 848.3L306.2 862.1L305.6 876.1L305.3 889.7L305.3 902.3L305.8 913.8L306.5 924.6L307.4 934.9L308.5 945.1L309.9 955.1L311.4 964.6L313.0 973.5L314.7 981.4L316.5 988.6L318.3 995.1L320.0 1000.6L321.5 1004.9L322.9 1008.2L324.3 1011.4L325.7 1015.2L327.1 1019.3L328.5 1023.5L330.0 1027.8L331.8 1032.2L333.9 1036.9L336.0 1041.4L337.9 1045.4L339.3 1048.9L340.5 1051.9L341.7 1054.8L342.9 1057.6L344.1 1060.3L345.3 1063.0L346.7 1065.7L348.3 1068.7L350.2 1072.1L352.0 1075.3L353.3 1077.5L353.3 1077.5L352.3 1075.2L350.8 1072.0L349.3 1068.5L348.1 1065.4L347.1 1062.6L346.2 1059.9L345.2 1057.1L344.3 1054.2L343.5 1051.3L342.6 1048.2L341.5 1044.8L339.9 1040.7L338.1 1036.2L336.2 1031.6L334.6 1027.2L333.2 1022.9L332.0 1018.6L330.8 1014.5L329.5 1010.8L328.3 1007.8L327.0 1004.7L325.6 1000.6L324.0 995.1L322.2 988.7L320.3 981.4L318.6 973.5L316.8 964.6L315.2 955.1L313.7 945.1L312.5 934.9L311.4 924.6L310.6 913.8L310.1 902.3L310.0 889.7L310.3 876.1L310.8 862.1L311.3 848.3L312.0 835.4L312.7 822.6L313.4 808.7L314.2 792.6L314.9 774.2L315.6 754.5L316.3 734.8L317.0 716.4L317.5 699.1L318.1 680.6L318.8 658.5L319.8 631.2L320.9 600.6L322.0 569.1L323.1 538.6L324.2 507.3L325.3 476.2L326.3 447.9L327.1 423.4L327.9 401.1L328.6 382.5L329.0 369.6Z" fill="#909096"/>
<path d="M327.9 369.5L327.4 382.5L326.7 401.1L325.9 423.4L325.0 447.9L324.0 476.2L322.8 507.3L321.7 538.6L320.6 569.1L319.5 600.6L318.4 631.2L317.4 658.5L316.7 680.6L316.1 699.1L315.5 716.4L314.9 734.8L314.1 754.5L313.4 774.2L312.7 792.6L312.0 808.7L311.2 822.6L310.5 835.4L309.8 848.3L309.3 862.1L308.8 876.1L308.5 889.7L308.5 902.3L309.0 913.8L309.8 924.6L310.8 934.9L312.0 945.1L313.4 955.1L315.0 964.6L316.7 973.5L318.4 981.4L320.3 988.7L322.1 995.1L323.8 1000.6L325.2 1004.8L326.5 1008.0L327.8 1011.0L329.1 1014.7L330.4 1018.8L331.6 1023.1L333.1 1027.4L334.8 1031.8L336.7 1036.4L338.6 1040.9L340.3 1045.0L341.5 1048.4L342.5 1051.5L343.4 1054.4L344.5 1057.3L345.5 1060.0L346.5 1062.7L347.6 1065.5L349.0 1068.5L350.6 1072.0L352.2 1075.3L353.3 1077.5L353.3 1077.5L352.5 1075.2L351.3 1071.9L350.0 1068.4L349.0 1065.2L348.2 1062.4L347.5 1059.6L346.8 1056.8L346.1 1053.8L345.5 1050.9L344.8 1047.8L343.9 1044.3L342.5 1040.3L340.9 1035.8L339.1 1031.3L337.7 1026.9L336.4 1022.5L335.3 1018.2L334.2 1014.1L333.0 1010.5L331.9 1007.6L330.7 1004.6L329.4 1000.6L327.8 995.2L325.9 988.7L324.0 981.4L322.3 973.5L320.5 964.6L318.7 955.1L317.1 945.1L315.8 934.9L314.7 924.6L313.8 913.8L313.3 902.3L313.2 889.7L313.4 876.1L313.9 862.1L314.4 848.3L315.0 835.4L315.7 822.6L316.4 808.7L317.1 792.6L317.9 774.2L318.6 754.5L319.3 734.8L319.9 716.4L320.5 699.1L321.0 680.6L321.7 658.5L322.6 631.2L323.7 600.6L324.7 569.1L325.8 538.6L326.8 507.3L327.8 476.2L328.8 447.9L329.6 423.4L330.3 401.2L331.0 382.6L331.4 369.7Z" fill="#8e8e94"/>
<path d="M330.2 369.6L329.8 382.6L329.1 401.1L328.4 423.4L327.5 447.9L326.6 476.2L325.5 507.3L324.4 538.6L323.4 569.1L322.3 600.6L321.2 631.2L320.3 658.5L319.6 680.6L319.0 699.1L318.4 716.4L317.8 734.8L317.1 754.5L316.4 774.2L315.7 792.6L314.9 808.7L314.2 822.6L313.5 835.4L312.9 848.3L312.3 862.1L311.9 876.1L311.6 889.7L311.7 902.3L312.2 913.8L313.1 924.6L314.1 934.9L315.4 945.1L316.9 955.1L318.7 964.6L320.4 973.5L322.2 981.4L324.1 988.7L325.9 995.1L327.5 1000.6L328.9 1004.7L330.1 1007.7L331.3 1010.6L332.5 1014.3L333.7 1018.4L334.8 1022.7L336.1 1027.0L337.7 1031.5L339.5 1036.0L341.2 1040.5L342.7 1044.5L343.7 1048.0L344.5 1051.1L345.2 1054.0L346.0 1056.9L346.8 1059.8L347.7 1062.5L348.6 1065.3L349.7 1068.4L351.1 1072.0L352.4 1075.2L353.3 1077.5L353.3 1077.5L352.7 1075.2L351.7 1071.9L350.7 1068.2L350.0 1065.1L349.4 1062.2L348.9 1059.3L348.4 1056.4L347.9 1053.5L347.5 1050.5L347.1 1047.4L346.3 1043.9L345.1 1039.9L343.6 1035.4L342.1 1030.9L340.7 1026.5L339.6 1022.1L338.6 1017.8L337.6 1013.7L336.5 1010.1L335.5 1007.3L334.4 1004.5L333.1 1000.6L331.5 995.2L329.7 988.7L327.8 981.4L326.0 973.5L324.1 964.6L322.2 955.1L320.5 945.1L319.2 934.9L318.0 924.6L317.1 913.8L316.5 902.3L316.3 889.7L316.5 876.1L317.0 862.1L317.5 848.3L318.0 835.4L318.7 822.6L319.4 808.7L320.1 792.6L320.8 774.2L321.6 754.5L322.3 734.8L322.9 716.4L323.4 699.1L323.9 680.6L324.6 658.5L325.5 631.2L326.5 600.6L327.5 569.1L328.5 538.6L329.5 507.2L330.4 476.2L331.3 447.9L332.1 423.5L332.8 401.2L333.3 382.7L333.7 369.8Z" fill="#8c8c92"/>
<path d="M332.6 369.8L332.1 382.7L331.6 401.2L330.8 423.5L330.1 447.9L329.1 476.2L328.1 507.3L327.1 538.6L326.1 569.1L325.1 600.6L324.1 631.2L323.2 658.5L322.5 680.6L321.9 699.1L321.4 716.4L320.8 734.8L320.1 754.5L319.3 774.2L318.6 792.6L317.9 808.7L317.2 822.6L316.5 835.4L315.9 848.3L315.4 862.1L315.0 876.1L314.7 889.7L314.9 902.3L315.4 913.8L316.3 924.6L317.5 934.9L318.8 945.1L320.5 955.1L322.3 964.6L324.1 973.5L325.9 981.4L327.8 988.7L329.6 995.2L331.2 1000.6L332.6 1004.6L333.7 1007.4L334.8 1010.3L335.9 1013.9L336.9 1018.0L338.0 1022.3L339.2 1026.7L340.6 1031.1L342.2 1035.6L343.8 1040.1L345.1 1044.1L345.9 1047.6L346.5 1050.7L347.0 1053.6L347.6 1056.6L348.2 1059.5L348.8 1062.3L349.5 1065.1L350.4 1068.3L351.5 1071.9L352.6 1075.2L353.3 1077.5L353.3 1077.5L352.8 1075.2L352.1 1071.8L351.4 1068.1L350.9 1064.9L350.5 1061.9L350.2 1059.1L349.9 1056.1L349.7 1053.1L349.5 1050.1L349.3 1046.9L348.7 1043.5L347.7 1039.4L346.4 1035.0L345.0 1030.5L343.8 1026.1L342.8 1021.7L341.9 1017.3L341.0 1013.2L340.0 1009.7L339.1 1007.1L338.1 1004.4L336.9 1000.6L335.3 995.2L333.5 988.7L331.5 981.4L329.7 973.5L327.7 964.6L325.7 955.1L324.0 945.1L322.5 934.9L321.3 924.6L320.3 913.8L319.6 902.3L319.4 889.7L319.6 876.1L320.1 862.1L320.5 848.3L321.1 835.4L321.7 822.6L322.4 808.7L323.1 792.6L323.8 774.2L324.5 754.5L325.2 734.8L325.8 716.4L326.3 699.1L326.8 680.6L327.5 658.5L328.3 631.2L329.3 600.6L330.3 569.1L331.2 538.6L332.1 507.2L333.0 476.2L333.9 447.9L334.6 423.5L335.2 401.3L335.7 382.8L336.1 369.9Z" fill="#89898f"/>
<path d="M334.9 369.9L334.5 382.8L334.0 401.2L333.3 423.5L332.6 447.9L331.7 476.2L330.8 507.2L329.8 538.6L328.9 569.1L327.9 600.6L326.9 631.2L326.1 658.5L325.4 680.6L324.9 699.1L324.3 716.4L323.7 734.8L323.0 754.5L322.3 774.2L321.6 792.6L320.9 808.7L320.2 822.6L319.5 835.4L319.0 848.3L318.5 862.1L318.1 876.1L317.9 889.7L318.1 902.3L318.7 913.8L319.6 924.6L320.8 934.9L322.3 945.1L324.0 955.1L325.9 964.6L327.8 973.5L329.7 981.4L331.6 988.7L333.4 995.2L335.0 1000.6L336.2 1004.4L337.3 1007.2L338.2 1009.9L339.3 1013.4L340.2 1017.6L341.2 1021.9L342.3 1026.3L343.5 1030.7L345.0 1035.2L346.4 1039.7L347.5 1043.7L348.2 1047.2L348.5 1050.3L348.8 1053.3L349.2 1056.3L349.6 1059.2L350.0 1062.1L350.5 1065.0L351.1 1068.2L351.9 1071.8L352.7 1075.2L353.3 1077.5L353.3 1077.5L353.0 1075.1L352.6 1071.7L352.2 1068.0L351.9 1064.7L351.7 1061.7L351.6 1058.8L351.5 1055.8L351.4 1052.7L351.5 1049.7L351.5 1046.5L351.1 1043.0L350.3 1039.0L349.2 1034.6L347.9 1030.1L346.9 1025.7L346.0 1021.3L345.2 1016.9L344.4 1012.8L343.5 1009.3L342.7 1006.8L341.7 1004.3L340.6 1000.6L339.1 995.2L337.2 988.8L335.3 981.4L333.3 973.5L331.3 964.6L329.3 955.1L327.4 945.1L325.9 934.9L324.6 924.6L323.5 913.8L322.8 902.3L322.6 889.7L322.7 876.1L323.1 862.1L323.6 848.3L324.1 835.4L324.7 822.6L325.4 808.7L326.0 792.6L326.7 774.2L327.5 754.5L328.2 734.8L328.8 716.4L329.3 699.1L329.8 680.6L330.4 658.5L331.2 631.2L332.1 600.6L333.0 569.1L333.9 538.6L334.8 507.2L335.6 476.2L336.4 447.9L337.0 423.5L337.6 401.3L338.1 382.9L338.4 370.1Z" fill="#86868c"/>
<path d="M337.2 370.0L336.9 382.9L336.4 401.3L335.8 423.5L335.1 447.9L334.3 476.2L333.4 507.2L332.5 538.6L331.6 569.1L330.7 600.6L329.8 631.2L328.9 658.5L328.3 680.6L327.8 699.1L327.3 716.4L326.7 734.8L326.0 754.5L325.3 774.2L324.5 792.6L323.9 808.7L323.2 822.6L322.6 835.4L322.1 848.3L321.6 862.1L321.2 876.1L321.0 889.7L321.2 902.3L321.9 913.8L322.9 924.6L324.2 934.9L325.7 945.1L327.5 955.1L329.5 964.6L331.5 973.5L333.4 981.4L335.3 988.8L337.2 995.2L338.7 1000.6L339.9 1004.3L340.9 1006.9L341.7 1009.5L342.7 1013.0L343.5 1017.1L344.4 1021.5L345.3 1025.9L346.5 1030.3L347.8 1034.8L349.0 1039.2L349.9 1043.2L350.4 1046.7L350.5 1049.9L350.6 1052.9L350.7 1055.9L350.9 1058.9L351.1 1061.8L351.4 1064.8L351.8 1068.1L352.4 1071.7L352.9 1075.1L353.3 1077.5L353.3 1077.5L353.2 1075.1L353.0 1071.6L352.9 1067.9L352.8 1064.5L352.9 1061.5L353.0 1058.5L353.1 1055.4L353.2 1052.3L353.5 1049.3L353.7 1046.1L353.6 1042.6L352.9 1038.6L351.9 1034.2L350.9 1029.7L350.0 1025.4L349.2 1020.9L348.5 1016.5L347.7 1012.4L347.0 1009.0L346.2 1006.6L345.4 1004.2L344.3 1000.6L342.8 995.3L341.0 988.8L339.0 981.4L337.0 973.5L334.9 964.6L332.8 955.1L330.8 945.1L329.2 934.9L327.8 924.6L326.7 913.8L326.0 902.3L325.7 889.7L325.9 876.1L326.2 862.1L326.6 848.3L327.1 835.4L327.7 822.6L328.3 808.7L329.0 792.6L329.7 774.2L330.4 754.5L331.1 734.8L331.7 716.4L332.2 699.1L332.7 680.6L333.3 658.5L334.0 631.2L334.9 600.6L335.8 569.1L336.6 538.6L337.4 507.2L338.2 476.2L338.9 447.9L339.5 423.5L340.1 401.4L340.5 383.0L340.8 370.2Z" fill="#828288"/>
<path d="M339.6 370.1L339.3 383.0L338.8 401.4L338.3 423.5L337.7 447.9L336.9 476.2L336.1 507.2L335.2 538.6L334.4 569.1L333.5 600.6L332.6 631.2L331.8 658.5L331.2 680.6L330.7 699.1L330.2 716.4L329.6 734.8L329.0 754.5L328.2 774.2L327.5 792.6L326.9 808.7L326.2 822.6L325.6 835.4L325.1 848.3L324.7 862.1L324.3 876.1L324.1 889.7L324.4 902.3L325.1 913.8L326.2 924.6L327.5 934.9L329.1 945.1L331.0 955.1L333.1 964.6L335.2 973.5L337.1 981.4L339.1 988.8L340.9 995.3L342.5 1000.6L343.6 1004.2L344.4 1006.7L345.2 1009.1L346.0 1012.6L346.8 1016.7L347.6 1021.1L348.4 1025.5L349.4 1029.9L350.6 1034.4L351.6 1038.8L352.4 1042.8L352.6 1046.3L352.5 1049.5L352.3 1052.5L352.3 1055.6L352.3 1058.6L352.3 1061.6L352.3 1064.6L352.5 1067.9L352.8 1071.7L353.1 1075.1L353.3 1077.5L353.3 1077.5L353.4 1075.1L353.4 1071.6L353.6 1067.8L353.8 1064.4L354.0 1061.3L354.3 1058.2L354.6 1055.1L355.0 1052.0L355.5 1048.9L355.9 1045.7L356.0 1042.1L355.5 1038.1L354.7 1033.8L353.8 1029.3L353.0 1025.0L352.4 1020.5L351.8 1016.0L351.1 1011.9L350.5 1008.6L349.8 1006.3L349.1 1004.0L348.1 1000.6L346.6 995.3L344.8 988.8L342.7 981.5L340.7 973.5L338.6 964.6L336.3 955.1L334.3 945.1L332.6 934.9L331.1 924.6L330.0 913.8L329.2 902.3L328.8 889.7L329.0 876.1L329.3 862.1L329.7 848.3L330.1 835.4L330.7 822.6L331.3 808.7L332.0 792.6L332.7 774.2L333.4 754.5L334.1 734.8L334.7 716.4L335.1 699.1L335.6 680.6L336.2 658.5L336.9 631.2L337.7 600.6L338.5 569.1L339.3 538.6L340.1 507.2L340.8 476.2L341.5 447.9L342.0 423.5L342.5 401.4L342.8 383.1L343.1 370.3Z" fill="#7f7f85"/>
<path d="M341.9 370.2L341.7 383.1L341.3 401.4L340.8 423.5L340.2 447.9L339.5 476.2L338.7 507.2L337.9 538.6L337.1 569.1L336.3 600.6L335.5 631.2L334.7 658.5L334.1 680.6L333.7 699.1L333.2 716.4L332.6 734.8L331.9 754.5L331.2 774.2L330.5 792.6L329.8 808.7L329.2 822.6L328.6 835.4L328.2 848.3L327.8 862.1L327.4 876.1L327.3 889.7L327.6 902.3L328.4 913.8L329.5 924.6L330.9 934.9L332.5 945.1L334.6 955.1L336.8 964.6L338.9 973.5L340.9 981.5L342.9 988.8L344.7 995.3L346.2 1000.6L347.3 1004.1L348.0 1006.4L348.7 1008.8L349.4 1012.1L350.1 1016.3L350.8 1020.7L351.5 1025.2L352.3 1029.5L353.3 1034.0L354.2 1038.4L354.8 1042.4L354.8 1045.9L354.5 1049.1L354.1 1052.2L353.9 1055.3L353.6 1058.3L353.4 1061.4L353.3 1064.5L353.2 1067.8L353.2 1071.6L353.3 1075.1L353.3 1077.5L353.3 1077.5L353.5 1075.0L353.9 1071.5L354.3 1067.6L354.7 1064.2L355.2 1061.0L355.7 1057.9L356.2 1054.8L356.8 1051.6L357.5 1048.5L358.1 1045.2L358.4 1041.7L358.1 1037.7L357.5 1033.4L356.7 1029.0L356.1 1024.6L355.6 1020.1L355.1 1015.6L354.5 1011.5L353.9 1008.2L353.4 1006.1L352.8 1003.9L351.8 1000.6L350.4 995.3L348.5 988.9L346.5 981.5L344.4 973.5L342.2 964.6L339.8 955.1L337.7 945.1L335.9 934.9L334.4 924.6L333.2 913.8L332.4 902.3L332.0 889.7L332.1 876.1L332.4 862.1L332.8 848.3L333.2 835.4L333.7 822.6L334.3 808.7L334.9 792.6L335.6 774.2L336.4 754.5L337.0 734.8L337.6 716.4L338.0 699.1L338.5 680.6L339.0 658.5L339.7 631.2L340.5 600.6L341.3 569.1L342.0 538.6L342.7 507.2L343.4 476.2L344.0 447.9L344.5 423.6L344.9 401.5L345.2 383.2L345.5 370.4Z" fill="#7c7c82"/>
<path d="M344.3 370.4L344.0 383.2L343.7 401.5L343.3 423.5L342.7 447.9L342.1 476.2L341.4 507.2L340.6 538.6L339.9 569.1L339.1 600.6L338.3 631.2L337.6 658.5L337.0 680.6L336.6 699.1L336.1 716.4L335.6 734.8L334.9 754.5L334.1 774.2L333.4 792.6L332.8 808.7L332.2 822.6L331.7 835.4L331.2 848.3L330.9 862.1L330.5 876.1L330.4 889.7L330.8 902.3L331.6 913.8L332.8 924.6L334.2 934.9L336.0 945.1L338.1 955.1L340.4 964.6L342.6 973.5L344.6 981.5L346.6 988.8L348.5 995.3L349.9 1000.6L350.9 1004.0L351.6 1006.2L352.2 1008.4L352.8 1011.7L353.4 1015.8L354.0 1020.3L354.6 1024.8L355.3 1029.2L356.1 1033.6L356.8 1037.9L357.2 1041.9L357.0 1045.5L356.5 1048.7L355.9 1051.8L355.4 1054.9L355.0 1058.1L354.6 1061.1L354.2 1064.3L353.9 1067.7L353.7 1071.5L353.4 1075.0L353.3 1077.5L353.3 1077.5L353.7 1075.0L354.3 1071.4L355.0 1067.5L355.6 1064.0L356.3 1060.8L357.0 1057.6L357.8 1054.4L358.6 1051.2L359.5 1048.1L360.3 1044.8L360.8 1041.3L360.7 1037.3L360.3 1033.0L359.7 1028.6L359.2 1024.2L358.8 1019.7L358.4 1015.2L357.9 1011.1L357.4 1007.8L357.0 1005.8L356.5 1003.8L355.5 1000.6L354.1 995.4L352.3 988.9L350.2 981.5L348.1 973.5L345.8 964.6L343.4 955.1L341.1 945.1L339.3 934.9L337.7 924.6L336.4 913.8L335.5 902.3L335.1 889.7L335.2 876.1L335.5 862.1L335.8 848.3L336.2 835.4L336.7 822.6L337.3 808.7L337.9 792.6L338.6 774.2L339.3 754.5L340.0 734.8L340.5 716.4L341.0 699.1L341.4 680.6L341.9 658.5L342.6 631.2L343.3 600.6L344.0 569.1L344.7 538.6L345.4 507.2L346.0 476.2L346.5 447.9L347.0 423.6L347.3 401.5L347.6 383.3L347.8 370.6Z" fill="#79797f"/>
<path d="M346.6 370.5L346.4 383.3L346.1 401.5L345.7 423.6L345.3 447.9L344.7 476.2L344.0 507.2L343.4 538.6L342.7 569.1L341.9 600.6L341.2 631.2L340.5 658.5L340.0 680.6L339.5 699.1L339.1 716.4L338.5 734.8L337.8 754.5L337.1 774.2L336.4 792.6L335.8 808.7L335.2 822.6L334.7 835.4L334.3 848.3L333.9 862.1L333.6 876.1L333.6 889.7L333.9 902.3L334.8 913.8L336.1 924.6L337.6 934.9L339.4 945.1L341.6 955.1L344.0 964.6L346.3 973.5L348.4 981.5L350.4 988.9L352.2 995.3L353.7 1000.6L354.6 1003.9L355.2 1005.9L355.7 1008.0L356.2 1011.3L356.7 1015.4L357.2 1019.9L357.6 1024.4L358.2 1028.8L358.9 1033.2L359.4 1037.5L359.6 1041.5L359.2 1045.0L358.5 1048.3L357.7 1051.4L357.0 1054.6L356.4 1057.8L355.7 1060.9L355.2 1064.1L354.6 1067.6L354.1 1071.4L353.6 1075.0L353.3 1077.5L353.3 1077.5L353.9 1075.0L354.7 1071.3L355.7 1067.4L356.6 1063.9L357.5 1060.6L358.4 1057.3L359.3 1054.1L360.3 1050.8L361.5 1047.7L362.5 1044.4L363.2 1040.8L363.3 1036.9L363.0 1032.6L362.6 1028.2L362.2 1023.9L362.0 1019.3L361.7 1014.8L361.3 1010.6L360.9 1007.4L360.6 1005.6L360.1 1003.7L359.3 1000.6L357.9 995.4L356.0 988.9L354.0 981.5L351.8 973.5L349.4 964.6L346.9 955.1L344.5 945.1L342.6 934.9L341.0 924.6L339.7 913.8L338.7 902.3L338.3 889.7L338.3 876.1L338.6 862.1L338.9 848.3L339.2 835.4L339.7 822.6L340.3 808.7L340.8 792.6L341.5 774.2L342.3 754.5L343.0 734.8L343.5 716.4L343.9 699.1L344.3 680.6L344.8 658.5L345.4 631.2L346.1 600.6L346.8 569.1L347.4 538.6L348.0 507.2L348.6 476.1L349.1 447.9L349.5 423.6L349.8 401.6L350.0 383.4L350.1 370.7Z" fill="#74747a"/>
<path d="M349.0 370.6L348.8 383.4L348.5 401.6L348.2 423.6L347.8 447.9L347.3 476.2L346.7 507.2L346.1 538.6L345.4 569.1L344.7 600.6L344.0 631.2L343.4 658.5L342.9 680.6L342.4 699.1L342.0 716.4L341.5 734.8L340.8 754.5L340.1 774.2L339.4 792.6L338.8 808.7L338.2 822.6L337.7 835.4L337.3 848.3L337.0 862.1L336.7 876.1L336.7 889.7L337.1 902.3L338.0 913.8L339.3 924.6L341.0 934.9L342.8 945.1L345.1 955.1L347.6 964.6L350.0 973.5L352.1 981.5L354.2 988.9L356.0 995.4L357.4 1000.6L358.3 1003.8L358.8 1005.7L359.2 1007.6L359.6 1010.8L360.0 1015.0L360.4 1019.5L360.7 1024.0L361.1 1028.4L361.6 1032.8L362.0 1037.1L362.0 1041.0L361.4 1044.6L360.5 1047.9L359.4 1051.0L358.6 1054.3L357.7 1057.5L356.9 1060.7L356.1 1063.9L355.3 1067.4L354.5 1071.4L353.8 1075.0L353.3 1077.5L353.3 1077.5L354.1 1074.9L355.2 1071.3L356.4 1067.3L357.5 1063.7L358.6 1060.4L359.8 1057.1L360.9 1053.8L362.1 1050.5L363.5 1047.3L364.7 1044.0L365.6 1040.4L365.9 1036.4L365.8 1032.2L365.5 1027.8L365.3 1023.5L365.1 1018.9L364.9 1014.3L364.7 1010.2L364.4 1007.1L364.2 1005.3L363.8 1003.6L363.0 1000.5L361.6 995.4L359.8 988.9L357.7 981.5L355.5 973.5L353.1 964.6L350.4 955.1L348.0 945.1L346.0 934.9L344.3 924.6L342.9 913.8L341.9 902.3L341.4 889.7L341.4 876.1L341.7 862.1L341.9 848.3L342.3 835.4L342.7 822.6L343.2 808.7L343.8 792.6L344.5 774.2L345.2 754.5L345.9 734.8L346.4 716.4L346.8 699.1L347.2 680.6L347.7 658.5L348.3 631.2L348.9 600.6L349.5 569.1L350.1 538.6L350.7 507.2L351.2 476.1L351.6 447.9L351.9 423.6L352.2 401.7L352.4 383.5L352.5 370.8Z" fill="#707076"/>
<path d="M351.3 370.8L351.2 383.5L351.0 401.6L350.7 423.6L350.3 447.9L349.9 476.1L349.3 507.2L348.8 538.6L348.2 569.1L347.5 600.6L346.9 631.2L346.3 658.5L345.8 680.6L345.4 699.1L345.0 716.4L344.4 734.8L343.8 754.5L343.0 774.2L342.3 792.6L341.7 808.7L341.2 822.6L340.8 835.4L340.4 848.3L340.1 862.1L339.8 876.1L339.8 889.7L340.3 902.3L341.3 913.8L342.6 924.6L344.3 934.9L346.2 945.1L348.7 955.1L351.2 964.6L353.7 973.5L355.8 981.5L357.9 988.9L359.8 995.4L361.2 1000.6L362.0 1003.7L362.4 1005.4L362.7 1007.3L363.0 1010.4L363.3 1014.5L363.5 1019.1L363.8 1023.7L364.1 1028.0L364.4 1032.4L364.6 1036.6L364.4 1040.6L363.6 1044.2L362.5 1047.5L361.2 1050.7L360.1 1053.9L359.1 1057.2L358.1 1060.5L357.1 1063.8L356.0 1067.3L355.0 1071.3L354.0 1075.0L353.3 1077.5L353.3 1077.5L354.2 1074.9L355.6 1071.2L357.1 1067.1L358.5 1063.5L359.8 1060.1L361.1 1056.8L362.5 1053.4L363.9 1050.1L365.5 1046.9L367.0 1043.5L368.0 1040.0L368.5 1036.0L368.6 1031.8L368.4 1027.4L368.4 1023.1L368.3 1018.5L368.2 1013.9L368.1 1009.7L367.9 1006.7L367.8 1005.1L367.5 1003.5L366.8 1000.5L365.4 995.4L363.6 989.0L361.4 981.5L359.2 973.5L356.7 964.6L353.9 955.1L351.4 945.1L349.3 934.9L347.6 924.6L346.1 913.8L345.1 902.3L344.5 889.7L344.5 876.1L344.7 862.1L345.0 848.3L345.3 835.4L345.7 822.6L346.2 808.7L346.8 792.6L347.5 774.2L348.2 754.5L348.9 734.8L349.4 716.4L349.8 699.1L350.2 680.6L350.6 658.5L351.1 631.2L351.7 600.6L352.3 569.1L352.8 538.6L353.3 507.2L353.8 476.1L354.1 447.9L354.4 423.6L354.6 401.7L354.7 383.6L354.8 370.9Z" fill="#6b6b71"/>
<path d="M353.7 370.9L353.5 383.5L353.4 401.7L353.2 423.6L352.9 447.9L352.5 476.1L352.0 507.2L351.5 538.6L350.9 569.1L350.3 600.6L349.7 631.2L349.1 658.5L348.7 680.6L348.3 699.1L347.9 716.4L347.4 734.8L346.7 754.5L346.0 774.2L345.3 792.6L344.7 808.7L344.2 822.6L343.8 835.4L343.5 848.3L343.2 862.1L342.9 876.1L343.0 889.7L343.5 902.3L344.5 913.8L345.9 924.6L347.7 934.9L349.7 945.1L352.2 955.1L354.9 964.6L357.4 973.5L359.6 981.5L361.7 988.9L363.5 995.4L364.9 1000.5L365.6 1003.5L366.0 1005.2L366.1 1006.9L366.4 1010.0L366.6 1014.1L366.7 1018.7L366.8 1023.3L367.0 1027.6L367.2 1032.0L367.2 1036.2L366.8 1040.2L365.9 1043.7L364.5 1047.1L363.0 1050.3L361.7 1053.6L360.4 1056.9L359.2 1060.2L358.0 1063.6L356.7 1067.2L355.4 1071.2L354.2 1074.9L353.3 1077.5L353.3 1077.5L354.3 1074.9L355.8 1071.2L357.5 1067.1L358.9 1063.4L360.4 1060.0L361.8 1056.6L363.3 1053.3L364.8 1049.9L366.5 1046.7L368.1 1043.3L369.2 1039.7L369.8 1035.8L370.0 1031.6L369.9 1027.2L369.9 1022.9L369.9 1018.3L369.9 1013.7L369.8 1009.5L369.6 1006.5L369.6 1004.9L369.3 1003.4L368.6 1000.5L367.3 995.5L365.5 989.0L363.3 981.5L361.1 973.5L358.5 964.6L355.7 955.1L353.1 945.1L351.0 934.9L349.2 924.6L347.7 913.8L346.6 902.3L346.1 889.7L346.1 876.1L346.3 862.1L346.5 848.3L346.8 835.4L347.2 822.6L347.7 808.7L348.3 792.6L348.9 774.2L349.7 754.5L350.4 734.8L350.9 716.4L351.2 699.1L351.6 680.6L352.0 658.5L352.6 631.2L353.1 600.6L353.7 569.1L354.2 538.6L354.6 507.2L355.1 476.1L355.4 447.9L355.7 423.6L355.8 401.7L355.9 383.6L356.0 371.0Z" fill="#535358"/></g>
<g clip-path="url(#cBR)"><path d="M802.7 367.0L803.0 380.5L803.5 400.0L804.1 423.1L804.7 448.0L805.3 476.4L805.9 507.4L806.6 538.6L807.1 569.1L807.6 600.6L808.1 631.2L808.7 658.5L809.5 680.6L810.5 699.1L811.4 716.4L812.2 734.7L812.7 753.7L813.1 772.7L813.3 791.7L813.3 810.9L813.0 830.7L812.5 850.1L812.1 867.9L811.8 883.5L811.6 897.3L811.1 910.0L809.6 922.3L807.1 934.0L803.9 944.9L800.6 955.2L797.4 964.7L793.9 973.4L790.5 981.4L788.0 988.7L786.9 995.2L787.0 1000.8L787.5 1005.9L787.7 1010.6L787.6 1014.8L787.5 1018.5L787.4 1022.0L787.4 1025.6L787.2 1029.2L787.2 1032.6L787.4 1035.8L788.1 1038.5L789.1 1040.9L790.4 1043.0L791.6 1045.1L792.7 1047.1L793.7 1049.0L794.8 1051.0L795.9 1053.5L796.9 1056.4L798.0 1059.6L799.1 1063.0L800.4 1066.5L802.0 1070.6L803.5 1074.4L804.5 1077.0L804.6 1077.0L804.0 1074.4L803.1 1070.7L802.1 1066.6L801.3 1063.1L800.5 1059.8L799.8 1056.6L799.1 1053.7L798.3 1051.2L797.5 1049.1L796.6 1047.2L795.8 1045.1L794.9 1042.9L793.9 1040.7L793.1 1038.2L792.6 1035.5L792.5 1032.3L792.6 1028.9L792.9 1025.4L793.0 1021.8L793.2 1018.4L793.4 1014.7L793.6 1010.6L793.5 1005.9L793.3 1000.8L793.4 995.2L794.5 988.7L797.0 981.4L800.2 973.4L803.6 964.7L806.6 955.2L809.8 944.9L812.8 934.0L815.1 922.3L816.4 910.0L816.9 897.3L817.0 883.5L817.2 867.9L817.6 850.1L817.9 830.7L818.1 810.9L818.1 791.7L817.8 772.7L817.4 753.7L816.9 734.7L816.2 716.4L815.2 699.1L814.2 680.6L813.4 658.5L812.8 631.2L812.2 600.6L811.7 569.1L811.1 538.6L810.4 507.4L809.7 476.4L809.0 448.0L808.4 423.0L807.7 399.9L807.2 380.4L806.8 366.8Z" fill="#5c5c61"/>
<path d="M805.4 366.9L805.8 380.5L806.3 399.9L807.0 423.1L807.6 448.0L808.2 476.4L808.9 507.4L809.6 538.6L810.2 569.1L810.7 600.6L811.2 631.2L811.8 658.5L812.7 680.6L813.6 699.1L814.6 716.4L815.3 734.7L815.8 753.7L816.2 772.7L816.5 791.7L816.5 810.9L816.3 830.7L815.9 850.1L815.5 867.9L815.3 883.5L815.1 897.3L814.6 910.0L813.3 922.3L810.9 934.0L807.8 944.9L804.6 955.2L801.5 964.7L798.1 973.4L794.8 981.4L792.4 988.7L791.2 995.2L791.2 1000.8L791.5 1005.9L791.6 1010.6L791.5 1014.7L791.3 1018.4L791.2 1021.9L791.0 1025.4L790.8 1029.0L790.7 1032.4L790.8 1035.6L791.4 1038.3L792.3 1040.7L793.4 1042.9L794.4 1045.1L795.3 1047.1L796.2 1049.1L797.1 1051.1L798.0 1053.6L798.9 1056.6L799.7 1059.8L800.6 1063.1L801.6 1066.6L802.7 1070.6L803.8 1074.4L804.6 1077.0L804.7 1077.0L804.3 1074.4L803.8 1070.7L803.2 1066.7L802.7 1063.2L802.2 1059.9L801.7 1056.8L801.2 1053.9L800.6 1051.3L800.0 1049.2L799.3 1047.2L798.6 1045.1L797.9 1042.8L797.1 1040.5L796.4 1038.0L796.0 1035.3L796.0 1032.1L796.3 1028.7L796.5 1025.2L796.8 1021.7L797.0 1018.3L797.2 1014.7L797.5 1010.6L797.6 1005.9L797.4 1000.9L797.7 995.2L798.9 988.7L801.3 981.4L804.5 973.4L807.7 964.7L810.7 955.2L813.7 944.9L816.5 934.0L818.8 922.3L820.0 910.0L820.4 897.3L820.5 883.5L820.7 867.9L821.0 850.1L821.3 830.7L821.4 810.9L821.3 791.7L821.0 772.7L820.6 753.7L820.0 734.7L819.3 716.4L818.4 699.1L817.4 680.6L816.6 658.5L815.9 631.2L815.3 600.6L814.7 569.1L814.1 538.6L813.4 507.4L812.6 476.4L811.9 448.0L811.2 423.0L810.5 399.8L809.9 380.3L809.5 366.7Z" fill="#6a6a70"/>
<path d="M808.1 366.8L808.5 380.4L809.1 399.8L809.8 423.0L810.5 448.0L811.2 476.4L811.9 507.4L812.6 538.6L813.2 569.1L813.8 600.6L814.3 631.2L815.0 658.5L815.8 680.6L816.8 699.1L817.7 716.4L818.4 734.7L819.0 753.7L819.4 772.7L819.7 791.7L819.7 810.9L819.6 830.7L819.3 850.1L819.0 867.9L818.8 883.5L818.7 897.3L818.2 910.0L816.9 922.3L814.7 934.0L811.7 944.9L808.7 955.2L805.7 964.7L802.3 973.4L799.1 981.4L796.7 988.7L795.5 995.2L795.3 1000.8L795.5 1005.9L795.5 1010.6L795.3 1014.7L795.1 1018.3L794.9 1021.8L794.7 1025.3L794.4 1028.8L794.3 1032.2L794.3 1035.4L794.7 1038.1L795.5 1040.6L796.4 1042.8L797.2 1045.1L798.0 1047.2L798.7 1049.1L799.5 1051.2L800.2 1053.8L800.8 1056.7L801.4 1059.9L802.0 1063.2L802.7 1066.7L803.4 1070.7L804.1 1074.4L804.6 1077.0L804.7 1077.0L804.6 1074.4L804.5 1070.8L804.3 1066.8L804.1 1063.3L803.9 1060.1L803.7 1056.9L803.3 1054.0L802.9 1051.4L802.5 1049.2L802.0 1047.2L801.4 1045.0L800.9 1042.7L800.2 1040.4L799.7 1037.9L799.5 1035.1L799.6 1031.9L799.9 1028.6L800.2 1025.1L800.5 1021.6L800.8 1018.2L801.1 1014.7L801.4 1010.6L801.6 1005.9L801.6 1000.9L801.9 995.2L803.2 988.7L805.6 981.4L808.7 973.4L811.9 964.7L814.7 955.2L817.6 944.9L820.3 934.0L822.4 922.3L823.6 910.0L824.0 897.3L824.0 883.5L824.2 867.9L824.4 850.1L824.6 830.7L824.6 810.9L824.5 791.7L824.2 772.7L823.7 753.7L823.2 734.7L822.4 716.4L821.5 699.1L820.6 680.6L819.7 658.5L819.0 631.2L818.4 600.6L817.8 569.1L817.1 538.6L816.3 507.4L815.6 476.5L814.8 448.0L814.1 423.0L813.3 399.8L812.6 380.2L812.2 366.6Z" fill="#6d6d73"/>
<path d="M810.8 366.6L811.3 380.3L811.9 399.8L812.7 423.0L813.4 448.0L814.1 476.4L814.8 507.4L815.6 538.6L816.2 569.1L816.8 600.6L817.5 631.2L818.1 658.5L819.0 680.6L820.0 699.1L820.9 716.4L821.6 734.7L822.1 753.7L822.6 772.7L822.9 791.7L823.0 810.9L822.9 830.7L822.7 850.1L822.4 867.9L822.3 883.5L822.2 897.3L821.8 910.0L820.6 922.3L818.4 934.0L815.7 944.9L812.7 955.2L809.8 964.7L806.6 973.4L803.4 981.4L801.0 988.7L799.8 995.2L799.5 1000.9L799.6 1005.9L799.5 1010.6L799.2 1014.7L798.9 1018.3L798.6 1021.7L798.4 1025.2L798.1 1028.7L797.8 1032.0L797.8 1035.2L798.1 1038.0L798.7 1040.4L799.4 1042.8L800.0 1045.0L800.6 1047.2L801.2 1049.2L801.8 1051.4L802.3 1053.9L802.7 1056.8L803.1 1060.0L803.4 1063.3L803.8 1066.7L804.1 1070.7L804.5 1074.4L804.7 1077.0L804.8 1077.0L805.0 1074.5L805.2 1070.8L805.4 1066.9L805.6 1063.4L805.6 1060.2L805.6 1057.1L805.5 1054.1L805.3 1051.6L805.0 1049.3L804.6 1047.2L804.3 1045.0L803.9 1042.6L803.4 1040.2L803.1 1037.7L802.9 1034.9L803.1 1031.7L803.5 1028.4L803.9 1025.0L804.2 1021.5L804.6 1018.2L805.0 1014.6L805.4 1010.6L805.6 1005.9L805.8 1000.9L806.2 995.2L807.5 988.7L809.9 981.4L812.9 973.4L816.0 964.7L818.8 955.2L821.5 944.9L824.1 934.0L826.0 922.3L827.1 910.0L827.5 897.3L827.5 883.5L827.6 867.9L827.8 850.1L827.9 830.7L827.8 810.9L827.7 791.7L827.3 772.7L826.9 753.7L826.3 734.7L825.6 716.4L824.7 699.1L823.7 680.6L822.9 658.5L822.2 631.2L821.5 600.6L820.8 569.1L820.1 538.6L819.3 507.4L818.5 476.5L817.7 448.0L817.0 423.0L816.1 399.7L815.4 380.1L814.9 366.4Z" fill="#707076"/>
<path d="M813.5 366.5L814.0 380.2L814.7 399.7L815.5 423.0L816.3 448.0L817.0 476.5L817.8 507.4L818.6 538.6L819.3 569.1L819.9 600.6L820.6 631.2L821.3 658.5L822.2 680.6L823.1 699.1L824.0 716.4L824.7 734.7L825.3 753.7L825.7 772.7L826.1 791.7L826.2 810.9L826.2 830.7L826.1 850.1L825.9 867.9L825.8 883.5L825.7 897.3L825.3 910.0L824.2 922.3L822.2 934.0L819.6 944.9L816.7 955.2L814.0 964.7L810.8 973.4L807.8 981.4L805.4 988.7L804.1 995.2L803.7 1000.9L803.6 1005.9L803.4 1010.6L803.0 1014.6L802.7 1018.2L802.3 1021.6L802.0 1025.0L801.7 1028.5L801.3 1031.8L801.2 1035.0L801.4 1037.8L801.8 1040.3L802.4 1042.7L802.9 1045.0L803.3 1047.2L803.7 1049.3L804.1 1051.5L804.4 1054.1L804.6 1057.0L804.8 1060.1L804.9 1063.4L804.9 1066.8L804.9 1070.8L804.8 1074.5L804.8 1077.0L804.8 1077.0L805.3 1074.5L805.9 1070.9L806.6 1066.9L807.0 1063.5L807.3 1060.3L807.5 1057.2L807.6 1054.3L807.6 1051.7L807.5 1049.4L807.3 1047.2L807.1 1045.0L806.9 1042.6L806.6 1040.1L806.4 1037.5L806.4 1034.7L806.7 1031.5L807.1 1028.2L807.5 1024.8L807.9 1021.4L808.4 1018.1L808.8 1014.6L809.3 1010.6L809.7 1005.9L809.9 1000.9L810.5 995.2L811.9 988.7L814.2 981.4L817.2 973.4L820.2 964.7L822.8 955.2L825.4 944.9L827.8 934.0L829.7 922.3L830.7 910.0L831.0 897.3L831.1 883.5L831.1 867.9L831.2 850.1L831.2 830.7L831.1 810.9L830.9 791.7L830.5 772.7L830.0 753.7L829.5 734.7L828.7 716.4L827.8 699.1L826.9 680.6L826.0 658.5L825.3 631.2L824.6 600.6L823.8 569.1L823.1 538.6L822.3 507.4L821.4 476.5L820.6 448.0L819.8 423.0L818.9 399.6L818.1 380.0L817.6 366.3Z" fill="#737379"/>
<path d="M816.2 366.4L816.8 380.1L817.5 399.7L818.4 423.0L819.2 448.0L820.0 476.5L820.8 507.4L821.6 538.6L822.3 569.1L823.0 600.6L823.7 631.2L824.5 658.5L825.3 680.6L826.3 699.1L827.2 716.4L827.9 734.7L828.5 753.7L828.9 772.7L829.3 791.7L829.5 810.9L829.5 830.7L829.5 850.1L829.4 867.9L829.3 883.5L829.3 897.3L828.9 910.0L827.9 922.3L825.9 934.0L823.5 944.9L820.8 955.2L818.1 964.7L815.1 973.4L812.1 981.4L809.7 988.7L808.4 995.2L807.8 1000.9L807.6 1005.9L807.3 1010.6L806.9 1014.6L806.5 1018.1L806.1 1021.5L805.7 1024.9L805.3 1028.3L804.9 1031.6L804.7 1034.8L804.7 1037.6L805.0 1040.2L805.4 1042.6L805.7 1045.0L805.9 1047.2L806.2 1049.4L806.4 1051.6L806.5 1054.2L806.5 1057.1L806.4 1060.2L806.3 1063.5L806.0 1066.9L805.6 1070.8L805.1 1074.5L804.8 1077.0L804.9 1077.0L805.6 1074.5L806.6 1070.9L807.7 1067.0L808.4 1063.6L809.0 1060.4L809.4 1057.3L809.7 1054.4L809.9 1051.8L810.0 1049.5L809.9 1047.3L809.9 1045.0L809.9 1042.5L809.8 1040.0L809.7 1037.3L809.9 1034.5L810.2 1031.4L810.7 1028.1L811.2 1024.7L811.7 1021.3L812.2 1018.0L812.7 1014.6L813.2 1010.6L813.7 1005.9L814.1 1000.9L814.8 995.2L816.2 988.7L818.5 981.4L821.4 973.4L824.3 964.7L826.8 955.2L829.3 944.9L831.6 934.0L833.3 922.3L834.3 910.0L834.6 897.3L834.6 883.5L834.6 867.9L834.6 850.1L834.5 830.7L834.3 810.9L834.0 791.7L833.7 772.7L833.2 753.7L832.6 734.7L831.9 716.4L831.0 699.1L830.1 680.6L829.2 658.5L828.4 631.2L827.6 600.6L826.9 569.1L826.1 538.6L825.2 507.4L824.4 476.5L823.5 448.0L822.7 423.0L821.7 399.6L820.9 379.9L820.3 366.2Z" fill="#76767c"/>
<path d="M818.9 366.2L819.5 380.0L820.3 399.6L821.2 423.0L822.1 448.0L822.9 476.5L823.7 507.4L824.6 538.6L825.4 569.1L826.1 600.6L826.8 631.2L827.6 658.5L828.5 680.6L829.4 699.1L830.3 716.4L831.0 734.7L831.6 753.7L832.1 772.7L832.4 791.7L832.7 810.9L832.8 830.7L832.9 850.1L832.8 867.9L832.8 883.5L832.8 897.3L832.5 910.0L831.5 922.3L829.7 934.0L827.4 944.9L824.8 955.2L822.2 964.7L819.3 973.4L816.4 981.4L814.0 988.7L812.7 995.2L812.0 1000.9L811.7 1005.9L811.3 1010.6L810.7 1014.6L810.3 1018.1L809.8 1021.4L809.4 1024.8L808.9 1028.2L808.4 1031.4L808.1 1034.6L808.1 1037.4L808.2 1040.0L808.4 1042.5L808.5 1045.0L808.6 1047.3L808.7 1049.4L808.7 1051.7L808.6 1054.4L808.4 1057.3L808.1 1060.4L807.7 1063.6L807.1 1067.0L806.3 1070.9L805.5 1074.5L804.9 1077.0L805.0 1077.0L805.9 1074.5L807.4 1071.0L808.8 1067.1L809.9 1063.7L810.7 1060.5L811.3 1057.5L811.8 1054.6L812.2 1051.9L812.5 1049.6L812.6 1047.3L812.7 1044.9L812.8 1042.4L812.9 1039.8L813.0 1037.1L813.3 1034.3L813.8 1031.2L814.3 1027.9L814.9 1024.5L815.4 1021.2L815.9 1018.0L816.5 1014.5L817.1 1010.6L817.7 1005.9L818.3 1000.9L819.1 995.2L820.5 988.7L822.8 981.4L825.7 973.4L828.5 964.7L830.9 955.2L833.2 944.9L835.3 934.0L837.0 922.3L837.8 910.0L838.1 897.3L838.1 883.5L838.0 867.9L838.0 850.1L837.8 830.7L837.6 810.9L837.2 791.7L836.8 772.7L836.3 753.7L835.7 734.7L835.0 716.4L834.2 699.1L833.2 680.6L832.4 658.5L831.5 631.2L830.7 600.6L829.9 569.1L829.1 538.6L828.2 507.4L827.3 476.5L826.4 448.0L825.5 422.9L824.5 399.5L823.6 379.8L823.0 366.1Z" fill="#79797f"/>
<path d="M821.6 366.1L822.3 379.9L823.1 399.6L824.1 423.0L825.0 448.0L825.8 476.5L826.7 507.4L827.6 538.6L828.4 569.1L829.2 600.6L830.0 631.2L830.8 658.5L831.7 680.6L832.6 699.1L833.4 716.4L834.2 734.7L834.8 753.7L835.3 772.7L835.6 791.7L835.9 810.9L836.2 830.7L836.3 850.1L836.3 867.9L836.3 883.5L836.3 897.3L836.1 910.0L835.1 922.3L833.5 934.0L831.3 944.9L828.9 955.2L826.4 964.7L823.5 973.4L820.7 981.4L818.4 988.7L816.9 995.2L816.2 1000.9L815.7 1005.9L815.2 1010.6L814.6 1014.5L814.0 1018.0L813.5 1021.3L813.0 1024.6L812.5 1028.0L812.0 1031.3L811.6 1034.4L811.4 1037.2L811.3 1039.9L811.3 1042.4L811.3 1044.9L811.3 1047.3L811.2 1049.5L811.1 1051.9L810.8 1054.5L810.4 1057.4L809.8 1060.5L809.2 1063.7L808.2 1067.1L807.0 1070.9L805.8 1074.5L804.9 1077.0L805.0 1077.0L806.3 1074.5L808.1 1071.0L809.9 1067.2L811.3 1063.8L812.4 1060.7L813.2 1057.6L814.0 1054.7L814.5 1052.0L814.9 1049.6L815.2 1047.3L815.5 1044.9L815.8 1042.3L816.1 1039.7L816.4 1037.0L816.8 1034.1L817.3 1031.0L817.9 1027.7L818.5 1024.4L819.1 1021.1L819.7 1017.9L820.4 1014.5L821.1 1010.6L821.8 1006.0L822.4 1000.9L823.4 995.2L824.9 988.7L827.1 981.4L829.9 973.4L832.6 964.7L834.9 955.2L837.1 944.9L839.1 934.0L840.6 922.3L841.4 910.0L841.6 897.3L841.6 883.5L841.5 867.9L841.4 850.1L841.1 830.7L840.8 810.9L840.4 791.7L840.0 772.7L839.5 753.7L838.9 734.7L838.2 716.4L837.3 699.1L836.4 680.6L835.5 658.5L834.7 631.2L833.8 600.6L833.0 569.1L832.1 538.6L831.2 507.4L830.2 476.5L829.3 448.0L828.4 422.9L827.3 399.5L826.4 379.7L825.7 365.9Z" fill="#7b7b81"/>
<path d="M824.4 366.0L825.0 379.8L825.9 399.5L826.9 422.9L827.9 448.0L828.8 476.5L829.7 507.4L830.6 538.6L831.4 569.1L832.3 600.6L833.1 631.2L833.9 658.5L834.8 680.6L835.7 699.1L836.6 716.4L837.3 734.7L837.9 753.7L838.4 772.7L838.8 791.7L839.2 810.9L839.5 830.7L839.7 850.1L839.7 867.9L839.8 883.5L839.9 897.3L839.6 910.0L838.8 922.3L837.2 934.0L835.2 944.9L832.9 955.2L830.5 964.7L827.8 973.4L825.0 981.4L822.7 988.7L821.2 995.2L820.3 1000.9L819.8 1006.0L819.1 1010.6L818.4 1014.5L817.8 1017.9L817.3 1021.1L816.7 1024.5L816.1 1027.8L815.5 1031.1L815.0 1034.2L814.7 1037.1L814.5 1039.8L814.3 1042.4L814.1 1044.9L813.9 1047.3L813.7 1049.6L813.4 1052.0L812.9 1054.6L812.3 1057.5L811.5 1060.6L810.6 1063.8L809.3 1067.1L807.7 1071.0L806.1 1074.5L805.0 1077.0L805.1 1077.0L806.6 1074.6L808.8 1071.1L811.0 1067.3L812.7 1063.9L814.0 1060.8L815.1 1057.7L816.1 1054.8L816.9 1052.2L817.4 1049.7L817.9 1047.3L818.4 1044.9L818.8 1042.2L819.3 1039.6L819.7 1036.8L820.2 1033.9L820.8 1030.8L821.5 1027.6L822.2 1024.3L822.9 1021.0L823.5 1017.8L824.2 1014.5L825.0 1010.5L825.8 1006.0L826.6 1000.9L827.6 995.2L829.2 988.7L831.5 981.4L834.1 973.4L836.7 964.7L839.0 955.2L841.0 944.9L842.9 934.0L844.2 922.3L845.0 910.0L845.2 897.3L845.1 883.5L844.9 867.9L844.8 850.1L844.4 830.7L844.1 810.9L843.6 791.7L843.2 772.7L842.6 753.7L842.0 734.7L841.3 716.4L840.5 699.1L839.6 680.6L838.7 658.5L837.8 631.2L836.9 600.6L836.0 569.1L835.1 538.6L834.1 507.4L833.2 476.5L832.2 448.1L831.2 422.9L830.1 399.4L829.1 379.6L828.4 365.8Z" fill="#7e7e84"/>
<path d="M827.1 365.9L827.7 379.7L828.7 399.5L829.8 422.9L830.8 448.0L831.7 476.5L832.6 507.4L833.6 538.6L834.5 569.1L835.4 600.6L836.2 631.2L837.1 658.5L838.0 680.6L838.9 699.1L839.7 716.4L840.5 734.7L841.1 753.7L841.6 772.7L842.0 791.7L842.4 810.9L842.8 830.7L843.1 850.1L843.2 867.9L843.3 883.5L843.4 897.3L843.2 910.0L842.4 922.3L841.0 934.0L839.1 944.9L836.9 955.2L834.7 964.7L832.0 973.4L829.3 981.4L827.0 988.7L825.5 995.2L824.5 1000.9L823.8 1006.0L823.0 1010.5L822.3 1014.5L821.6 1017.9L821.0 1021.0L820.4 1024.3L819.7 1027.6L819.1 1030.9L818.5 1034.0L818.0 1036.9L817.7 1039.6L817.3 1042.3L817.0 1044.9L816.6 1047.3L816.2 1049.7L815.7 1052.1L815.0 1054.8L814.2 1057.7L813.2 1060.7L812.0 1063.9L810.5 1067.2L808.4 1071.0L806.4 1074.6L805.1 1077.0L805.2 1077.0L806.9 1074.6L809.5 1071.1L812.1 1067.3L814.2 1064.0L815.7 1060.9L817.1 1057.9L818.2 1055.0L819.2 1052.3L819.9 1049.8L820.6 1047.4L821.2 1044.8L821.8 1042.2L822.4 1039.4L823.0 1036.6L823.7 1033.7L824.4 1030.6L825.1 1027.4L825.9 1024.1L826.6 1020.9L827.3 1017.8L828.1 1014.4L828.9 1010.5L829.8 1006.0L830.8 1000.9L831.9 995.2L833.5 988.7L835.8 981.4L838.4 973.4L840.9 964.7L843.0 955.2L844.9 944.9L846.6 934.0L847.9 922.3L848.6 910.0L848.7 897.3L848.6 883.5L848.4 867.9L848.1 850.1L847.8 830.7L847.3 810.9L846.8 791.7L846.3 772.7L845.8 753.7L845.2 734.7L844.5 716.4L843.6 699.1L842.7 680.6L841.9 658.5L840.9 631.2L840.0 600.6L839.0 569.1L838.1 538.6L837.1 507.4L836.1 476.5L835.1 448.1L834.1 422.9L832.9 399.4L831.9 379.5L831.1 365.7Z" fill="#818187"/>
<path d="M829.8 365.8L830.5 379.6L831.5 399.4L832.7 422.9L833.7 448.1L834.6 476.5L835.6 507.4L836.6 538.6L837.5 569.1L838.4 600.6L839.4 631.2L840.3 658.5L841.2 680.6L842.1 699.1L842.9 716.4L843.6 734.7L844.2 753.7L844.8 772.7L845.2 791.7L845.7 810.9L846.1 830.7L846.5 850.1L846.7 867.9L846.8 883.5L846.9 897.3L846.8 910.0L846.1 922.3L844.7 934.0L843.0 944.9L841.0 955.2L838.8 964.7L836.2 973.4L833.6 981.4L831.4 988.7L829.8 995.2L828.7 1000.9L827.8 1006.0L827.0 1010.5L826.1 1014.5L825.4 1017.8L824.7 1020.9L824.0 1024.2L823.3 1027.5L822.6 1030.7L822.0 1033.8L821.4 1036.7L820.8 1039.5L820.3 1042.2L819.8 1044.9L819.2 1047.4L818.7 1049.8L818.0 1052.2L817.1 1054.9L816.1 1057.8L814.9 1060.8L813.4 1064.0L811.6 1067.3L809.1 1071.1L806.8 1074.6L805.1 1077.0L805.2 1077.0L807.3 1074.6L810.2 1071.1L813.2 1067.4L815.6 1064.1L817.4 1061.0L819.0 1058.0L820.3 1055.1L821.5 1052.4L822.4 1049.9L823.2 1047.4L824.0 1044.8L824.8 1042.1L825.6 1039.3L826.4 1036.4L827.2 1033.4L827.9 1030.4L828.7 1027.2L829.5 1024.0L830.3 1020.8L831.1 1017.7L831.9 1014.4L832.9 1010.5L833.9 1006.0L834.9 1000.9L836.2 995.2L837.9 988.7L840.1 981.4L842.6 973.4L845.0 964.7L847.0 955.2L848.8 944.9L850.4 934.0L851.5 922.3L852.1 910.0L852.2 897.3L852.1 883.5L851.9 867.9L851.5 850.1L851.1 830.7L850.5 810.9L850.0 791.7L849.5 772.7L849.0 753.7L848.3 734.7L847.6 716.4L846.8 699.1L845.9 680.6L845.0 658.5L844.1 631.2L843.1 600.6L842.1 569.1L841.1 538.6L840.1 507.4L839.1 476.5L838.0 448.1L836.9 422.9L835.7 399.3L834.6 379.4L833.8 365.6Z" fill="#84848a"/>
<path d="M832.5 365.6L833.2 379.5L834.3 399.3L835.5 422.9L836.6 448.1L837.6 476.5L838.6 507.4L839.6 538.6L840.6 569.1L841.5 600.6L842.5 631.2L843.4 658.5L844.3 680.6L845.2 699.1L846.0 716.4L846.8 734.7L847.4 753.7L847.9 772.7L848.4 791.7L848.9 810.9L849.4 830.7L849.8 850.1L850.1 867.9L850.3 883.5L850.5 897.3L850.3 910.0L849.7 922.3L848.5 934.0L846.9 944.9L845.0 955.2L843.0 964.7L840.5 973.4L837.9 981.4L835.7 988.7L834.1 995.2L832.9 1000.9L831.9 1006.0L830.9 1010.5L830.0 1014.4L829.2 1017.7L828.5 1020.8L827.7 1024.1L826.9 1027.3L826.2 1030.5L825.4 1033.5L824.7 1036.5L824.0 1039.4L823.3 1042.1L822.6 1044.8L821.9 1047.4L821.2 1049.8L820.3 1052.3L819.3 1055.1L818.0 1058.0L816.6 1061.0L814.9 1064.1L812.7 1067.4L809.9 1071.1L807.1 1074.6L805.2 1077.0L805.3 1077.0L807.6 1074.6L810.9 1071.2L814.4 1067.5L817.0 1064.2L819.1 1061.2L820.9 1058.2L822.5 1055.3L823.8 1052.5L824.9 1049.9L825.9 1047.4L826.8 1044.8L827.8 1042.0L828.8 1039.2L829.7 1036.2L830.6 1033.2L831.5 1030.2L832.3 1027.1L833.2 1023.9L834.1 1020.7L834.9 1017.6L835.8 1014.4L836.8 1010.5L837.9 1006.0L839.1 1000.9L840.5 995.2L842.2 988.7L844.4 981.4L846.8 973.4L849.2 964.7L851.1 955.2L852.7 944.9L854.1 934.0L855.2 922.3L855.7 910.0L855.8 897.3L855.6 883.5L855.3 867.9L854.9 850.1L854.4 830.7L853.8 810.9L853.2 791.7L852.7 772.7L852.1 753.7L851.5 734.7L850.7 716.4L849.9 699.1L849.1 680.6L848.2 658.5L847.2 631.2L846.2 600.6L845.1 569.1L844.1 538.6L843.0 507.4L842.0 476.5L840.9 448.1L839.8 422.9L838.5 399.3L837.3 379.3L836.5 365.4Z" fill="#87878d"/>
<path d="M835.2 365.5L836.0 379.4L837.1 399.3L838.4 422.9L839.5 448.1L840.5 476.5L841.5 507.4L842.6 538.6L843.6 569.1L844.6 600.6L845.6 631.2L846.6 658.5L847.5 680.6L848.4 699.1L849.2 716.4L849.9 734.7L850.5 753.7L851.1 772.7L851.6 791.7L852.2 810.9L852.7 830.7L853.2 850.1L853.6 867.9L853.8 883.5L854.0 897.3L853.9 910.0L853.4 922.3L852.3 934.0L850.8 944.9L849.1 955.2L847.1 964.7L844.7 973.4L842.2 981.4L840.0 988.7L838.4 995.2L837.0 1000.9L835.9 1006.0L834.8 1010.5L833.8 1014.4L833.0 1017.7L832.2 1020.7L831.4 1023.9L830.5 1027.1L829.7 1030.3L828.9 1033.3L828.0 1036.3L827.2 1039.2L826.3 1042.0L825.4 1044.8L824.6 1047.4L823.7 1049.9L822.7 1052.5L821.4 1055.2L819.9 1058.1L818.3 1061.1L816.3 1064.2L813.8 1067.5L810.6 1071.2L807.4 1074.6L805.2 1077.0L805.3 1077.0L807.9 1074.6L811.6 1071.2L815.5 1067.6L818.5 1064.3L820.8 1061.3L822.8 1058.3L824.6 1055.4L826.1 1052.6L827.4 1050.0L828.5 1047.4L829.6 1044.8L830.8 1041.9L831.9 1039.0L833.0 1036.1L834.1 1033.0L835.0 1030.0L835.9 1026.9L836.9 1023.7L837.8 1020.6L838.7 1017.6L839.6 1014.3L840.7 1010.5L841.9 1006.0L843.3 1000.9L844.8 995.2L846.5 988.7L848.7 981.4L851.1 973.4L853.3 964.7L855.1 955.2L856.6 944.9L857.9 934.0L858.8 922.3L859.3 910.0L859.3 897.3L859.1 883.5L858.8 867.9L858.3 850.1L857.7 830.7L857.0 810.9L856.4 791.7L855.8 772.7L855.3 753.7L854.6 734.7L853.9 716.4L853.1 699.1L852.3 680.6L851.3 658.5L850.3 631.2L849.3 600.6L848.1 569.1L847.1 538.6L846.0 507.4L844.9 476.5L843.8 448.1L842.6 422.8L841.3 399.2L840.1 379.2L839.2 365.3Z" fill="#89898f"/>
<path d="M837.9 365.4L838.7 379.3L839.9 399.2L841.2 422.8L842.4 448.1L843.5 476.5L844.5 507.4L845.6 538.6L846.6 569.1L847.7 600.6L848.8 631.2L849.8 658.5L850.7 680.6L851.5 699.1L852.3 716.4L853.0 734.7L853.7 753.7L854.3 772.7L854.8 791.7L855.4 810.9L856.0 830.7L856.6 850.1L857.1 867.9L857.3 883.5L857.5 897.3L857.5 910.0L857.0 922.3L856.0 934.0L854.7 944.9L853.1 955.2L851.2 964.7L849.0 973.4L846.5 981.4L844.4 988.7L842.6 995.2L841.2 1000.9L839.9 1006.0L838.7 1010.5L837.7 1014.4L836.8 1017.6L835.9 1020.6L835.0 1023.8L834.1 1027.0L833.3 1030.1L832.3 1033.1L831.4 1036.1L830.4 1039.1L829.3 1042.0L828.2 1044.8L827.2 1047.4L826.2 1050.0L825.0 1052.6L823.5 1055.3L821.9 1058.2L820.0 1061.2L817.7 1064.3L814.9 1067.5L811.3 1071.2L807.8 1074.6L805.3 1077.0L805.4 1077.0L808.2 1074.7L812.3 1071.3L816.6 1067.6L819.9 1064.4L822.5 1061.4L824.7 1058.4L826.7 1055.6L828.5 1052.8L829.9 1050.1L831.2 1047.5L832.5 1044.7L833.8 1041.8L835.1 1038.9L836.4 1035.9L837.5 1032.8L838.6 1029.8L839.6 1026.7L840.5 1023.6L841.5 1020.4L842.5 1017.5L843.5 1014.3L844.6 1010.5L846.0 1006.0L847.4 1000.9L849.1 995.2L850.9 988.7L853.0 981.4L855.3 973.4L857.5 964.7L859.1 955.2L860.5 944.9L861.7 934.0L862.5 922.3L862.8 910.0L862.8 897.3L862.6 883.5L862.2 867.9L861.7 850.1L861.0 830.7L860.3 810.9L859.6 791.7L859.0 772.7L858.4 753.7L857.8 734.7L857.0 716.4L856.3 699.1L855.4 680.6L854.5 658.5L853.5 631.2L852.3 600.6L851.2 569.1L850.1 538.7L849.0 507.4L847.9 476.6L846.7 448.1L845.5 422.8L844.1 399.1L842.8 379.1L841.9 365.2Z" fill="#8c8c92"/>
<path d="M840.6 365.2L841.5 379.2L842.7 399.2L844.1 422.8L845.3 448.1L846.4 476.6L847.5 507.4L848.6 538.6L849.7 569.1L850.8 600.6L851.9 631.2L852.9 658.5L853.8 680.6L854.7 699.1L855.5 716.4L856.2 734.7L856.8 753.7L857.4 772.7L858.0 791.7L858.6 810.9L859.4 830.7L860.0 850.1L860.5 867.9L860.9 883.5L861.1 897.3L861.1 910.0L860.6 922.3L859.8 934.0L858.6 944.9L857.1 955.2L855.4 964.7L853.2 973.4L850.8 981.4L848.7 988.7L846.9 995.2L845.4 1000.9L844.0 1006.0L842.7 1010.5L841.6 1014.3L840.6 1017.5L839.7 1020.5L838.7 1023.6L837.7 1026.8L836.8 1029.9L835.8 1032.9L834.7 1036.0L833.5 1039.0L832.3 1041.9L831.1 1044.7L829.9 1047.4L828.7 1050.1L827.3 1052.7L825.6 1055.5L823.8 1058.4L821.6 1061.3L819.2 1064.4L816.0 1067.6L812.0 1071.3L808.1 1074.7L805.4 1077.0L805.5 1077.0L808.6 1074.7L813.1 1071.3L817.7 1067.7L821.3 1064.5L824.2 1061.5L826.6 1058.6L828.8 1055.7L830.8 1052.9L832.4 1050.2L833.9 1047.5L835.3 1044.7L836.8 1041.8L838.3 1038.7L839.7 1035.7L841.0 1032.6L842.1 1029.6L843.2 1026.5L844.2 1023.4L845.2 1020.3L846.3 1017.4L847.3 1014.3L848.6 1010.5L850.0 1006.0L851.6 1001.0L853.3 995.2L855.2 988.7L857.3 981.4L859.6 973.4L861.6 964.7L863.2 955.2L864.5 944.9L865.4 934.0L866.1 922.3L866.4 910.0L866.4 897.3L866.1 883.5L865.7 867.9L865.1 850.1L864.3 830.7L863.5 810.9L862.8 791.7L862.2 772.7L861.6 753.7L860.9 734.7L860.2 716.4L859.4 699.1L858.6 680.6L857.7 658.5L856.6 631.2L855.4 600.6L854.2 569.1L853.1 538.7L851.9 507.5L850.8 476.6L849.6 448.1L848.4 422.8L846.9 399.1L845.6 379.0L844.6 365.1Z" fill="#8f8f95"/>
<path d="M843.3 365.1L844.2 379.1L845.5 399.1L846.9 422.8L848.2 448.1L849.3 476.6L850.4 507.5L851.6 538.7L852.7 569.1L853.9 600.6L855.0 631.2L856.1 658.5L857.0 680.6L857.8 699.1L858.6 716.4L859.3 734.7L860.0 753.7L860.6 772.7L861.2 791.7L861.9 810.9L862.7 830.7L863.4 850.1L864.0 867.9L864.4 883.5L864.6 897.3L864.6 910.0L864.3 922.3L863.5 934.0L862.5 944.9L861.2 955.2L859.5 964.7L857.4 973.4L855.2 981.4L853.0 988.7L851.2 995.2L849.5 1000.9L848.0 1006.0L846.6 1010.5L845.4 1014.3L844.4 1017.4L843.4 1020.4L842.4 1023.5L841.4 1026.6L840.4 1029.7L839.3 1032.7L838.0 1035.8L836.7 1038.8L835.3 1041.8L833.9 1044.7L832.5 1047.5L831.2 1050.1L829.6 1052.8L827.8 1055.6L825.7 1058.5L823.3 1061.5L820.6 1064.5L817.1 1067.7L812.7 1071.3L808.4 1074.7L805.4 1077.0L805.5 1077.0L808.7 1074.7L813.4 1071.4L818.2 1067.8L822.0 1064.6L825.0 1061.6L827.6 1058.7L829.9 1055.8L832.0 1052.9L833.7 1050.2L835.2 1047.5L836.7 1044.7L838.3 1041.7L839.9 1038.7L841.4 1035.6L842.7 1032.5L843.9 1029.5L845.0 1026.5L846.0 1023.4L847.1 1020.3L848.2 1017.4L849.3 1014.3L850.5 1010.5L852.0 1006.0L853.7 1001.0L855.5 995.2L857.4 988.7L859.5 981.4L861.7 973.4L863.7 964.7L865.2 955.2L866.4 944.9L867.3 934.0L867.9 922.3L868.2 910.0L868.1 897.3L867.9 883.5L867.4 867.9L866.8 850.1L866.0 830.7L865.1 810.9L864.4 791.7L863.8 772.7L863.1 753.7L862.5 734.7L861.7 716.4L861.0 699.1L860.2 680.6L859.2 658.5L858.2 631.2L857.0 600.6L855.7 569.1L854.6 538.7L853.4 507.5L852.3 476.6L851.1 448.1L849.8 422.8L848.3 399.1L846.9 379.0L846.0 365.0Z" fill="#929298"/></g>
<path d="M295.8 900.0C296.1 906.7 296.7 927.5 297.8 940.0C298.9 952.5 300.4 965.0 302.2 975.0C304.0 985.0 306.5 993.4 308.6 1000.0C310.7 1006.6 312.7 1009.7 314.8 1014.7C316.9 1019.7 318.7 1024.7 321.3 1030.0C323.9 1035.3 327.8 1041.9 330.5 1046.5C333.2 1051.1 335.2 1054.2 337.5 1057.6C339.8 1061.0 341.9 1063.7 344.5 1067.0C347.1 1070.3 351.8 1075.8 353.3 1077.5L358.5 1064.5L363.8 1052L369.3 1039.5L369.9 1024L369.7 1008L368.5 1000L361.5 975L352 940L346.5 900Z" fill="url(#gLiftL)"/>
<path d="M868.0 920.0C867.4 926.7 866.3 948.3 864.5 960.0C862.7 971.7 859.3 981.7 857.0 990.0C854.7 998.3 852.5 1004.7 850.7 1010.0C849.0 1015.3 847.9 1018.1 846.5 1022.0C845.1 1025.9 844.0 1029.5 842.4 1033.3C840.8 1037.0 838.8 1040.9 836.8 1044.5C834.8 1048.1 833.3 1051.2 830.7 1054.7C828.1 1058.2 825.2 1061.8 821.0 1065.5C816.8 1069.2 808.1 1075.1 805.5 1077.0L799.5 1064L795.5 1052.5L791.5 1045L787.5 1036.5L787.4 1024L787.7 1010L787.7 990L799 960L810 920Z" fill="url(#gLiftR)"/>
<path d="M300 366H357V470H296Z" fill="url(#gDarkTopL)" clip-path="url(#cSil)"/>
<path d="M846 365L850.7 440L855 550L859.3 660L862.3 730L864.7 800L867.5 870L884.5 870L882.2 800L880.5 730L878 660L872.6 550L867.3 440L863.5 362Z" fill="url(#gDarkTop)"/>
<path d="M318.5 369.0C317.9 380.8 316.6 409.8 315.2 440.0C313.8 470.2 312.0 513.3 310.4 550.0C308.8 586.7 307.0 630.0 305.8 660.0C304.6 690.0 304.1 706.7 303.2 730.0C302.3 753.3 301.4 780.0 300.5 800.0C299.6 820.0 298.3 833.3 297.5 850.0C296.7 866.7 295.8 885.0 295.8 900.0C295.9 915.0 296.7 927.5 297.8 940.0C298.9 952.5 300.4 965.0 302.2 975.0C304.0 985.0 306.5 993.4 308.6 1000.0C310.7 1006.6 312.7 1009.7 314.8 1014.7C316.9 1019.7 318.7 1024.7 321.3 1030.0C323.9 1035.3 327.8 1041.9 330.5 1046.5C333.2 1051.1 335.2 1054.2 337.5 1057.6C339.8 1061.0 341.9 1063.7 344.5 1067.0C347.1 1070.3 350.4 1074.7 353.0 1077.2C355.6 1079.8 357.5 1080.8 360.0 1082.3C362.5 1083.8 364.9 1085.0 368.0 1085.9C371.1 1086.8 373.4 1087.3 378.7 1087.5C384.0 1087.7 392.0 1087.3 400.0 1086.9C408.0 1086.5 416.7 1085.7 426.7 1085.2C436.7 1084.8 449.4 1084.7 460.0 1084.2C470.6 1083.7 478.3 1082.9 490.0 1082.4C501.7 1081.9 515.0 1081.4 530.0 1081.0C545.0 1080.6 560.0 1080.3 580.0 1080.1C600.0 1079.9 631.7 1080.0 650.0 1080.0C668.3 1080.0 675.0 1080.1 690.0 1080.4C705.0 1080.7 725.0 1081.6 740.0 1082.0C755.0 1082.4 771.1 1082.7 780.0 1082.8C788.9 1082.9 789.3 1083.4 793.3 1082.4C797.3 1081.4 800.4 1079.0 804.0 1077.0C807.6 1075.0 810.2 1074.4 814.7 1070.7C819.2 1067.0 826.1 1060.9 830.7 1054.7C835.3 1048.5 839.1 1040.8 842.4 1033.3C845.7 1025.8 849.3 1013.9 850.7 1010.0C852.1 1006.1 849.7 1013.3 850.7 1010.0C851.8 1006.7 854.7 998.3 857.0 990.0C859.3 981.7 862.7 971.7 864.5 960.0C866.3 948.3 867.5 935.0 868.0 920.0C868.5 905.0 868.0 890.0 867.5 870.0C867.0 850.0 865.6 823.3 864.7 800.0C863.8 776.7 863.2 753.3 862.3 730.0C861.4 706.7 860.5 690.0 859.3 660.0C858.1 630.0 856.4 586.7 855.0 550.0C853.6 513.3 852.2 470.8 850.7 440.0C849.2 409.2 846.8 377.5 846.0 365.0" fill="none" stroke="#0c0c10" stroke-width="2"/>
<path d="M451 1098.5H551Q557 1098.5 557 1104.5Q557 1110 551 1110H451Q445 1110 445 1104Q445 1098.5 451 1098.5Z" fill="#050507"/>
<path d="M611 1098.5L711 1096.5Q716 1096.5 716 1101.5Q716 1107 711 1107L611 1110Q605 1110 605 1104.5Q605 1098.5 611 1098.5Z" fill="#050507"/>
<g fill="#8e8e94"><ellipse cx="453.5" cy="1108" rx="2.2" ry="1.3"/><ellipse cx="552.5" cy="1106.5" rx="2.2" ry="1.5"/><ellipse cx="609.5" cy="1106.5" rx="2.2" ry="1.5"/><ellipse cx="710" cy="1105" rx="2.4" ry="1.3"/></g>
<ellipse cx="579" cy="1099.5" rx="17" ry="11" fill="#3c3c44" filter="url(#b2)"/>
<ellipse cx="579" cy="1100" rx="11.5" ry="7.5" fill="#0a0a0c" filter="url(#b06)"/>
<ellipse cx="579" cy="1097" rx="6" ry="3" fill="#2e2e34" filter="url(#b06)"/>
<path d="M336.0 1112.4C338.3 1112.8 345.0 1114.3 350.0 1114.8C355.0 1115.3 360.7 1116.0 366.0 1115.6C371.3 1115.2 377.3 1113.5 382.0 1112.4C386.7 1111.3 390.0 1109.4 394.0 1108.8C398.0 1108.2 402.5 1107.9 406.0 1108.8C409.5 1109.7 413.3 1113.1 414.8 1114.0L414.8 1114.0C412.3 1114.8 404.8 1117.4 400.0 1119.0C395.2 1120.6 389.5 1123.2 386.0 1123.6C382.5 1124.0 380.9 1121.1 378.8 1121.5C376.7 1121.9 374.5 1124.3 373.2 1126.0C371.9 1127.7 372.8 1130.1 370.8 1131.6C368.8 1133.1 362.8 1134.3 361.2 1134.8L361.2 1134.8C359.3 1133.5 353.2 1129.3 350.0 1126.8C346.8 1124.3 344.3 1122.0 342.0 1119.6C339.7 1117.2 337.0 1113.6 336.0 1112.4Z" fill="#060608"/>
<path d="M414.8 1114.6L386 1123.8L385.2 1121.6L413.6 1112.8Z" fill="#9c9ca2"/>
<path d="M385.5 1122.8L379 1120.8L373.5 1126L371 1132L373.5 1132.5L376.5 1127.5L380.5 1123.8L385.8 1124.2Z" fill="#7c7c84"/>
<path d="M363.2 1123.5V1132.5" fill="none" stroke="#9a9aa2" stroke-width="2.2" stroke-linecap="round"/>
<path d="M751.2 1107.2C752.7 1106.8 756.5 1104.9 760.0 1104.8C763.5 1104.7 767.3 1105.8 772.0 1106.8C776.7 1107.8 782.7 1109.9 788.0 1110.8C793.3 1111.7 798.7 1112.5 804.0 1112.4C809.3 1112.3 815.6 1110.9 820.0 1110.0C824.4 1109.1 828.7 1107.7 830.4 1107.2L830.4 1107.2C830.0 1107.9 829.7 1109.5 828.0 1111.6C826.3 1113.7 822.7 1117.2 820.0 1119.6C817.3 1122.0 814.3 1124.1 812.0 1126.0C809.7 1127.9 808.3 1130.0 806.4 1130.8C804.5 1131.5 802.5 1131.4 800.8 1130.5C799.1 1129.6 796.8 1126.1 796.0 1125.2L796.0 1125.2C794.7 1124.6 790.3 1122.2 788.0 1121.5C785.7 1120.8 785.4 1121.8 782.4 1121.0C779.4 1120.2 775.1 1118.6 770.0 1117.0C764.9 1115.4 755.0 1112.4 752.0 1111.5Z" fill="#060608"/>
<path d="M751.6 1110.6L782.6 1120L782.2 1122.6L752 1113Z" fill="#88888e"/>
<path d="M768 1117.6L782.4 1122" fill="none" stroke="#c4c4ca" stroke-width="1.2"/>
<path d="M784.8 1117.2L788 1118L797 1126.5L795.5 1128.2L786 1121.5Z" fill="#8a8a92"/>
<path d="M804 1121V1130" fill="none" stroke="#b0b0b6" stroke-width="3" stroke-linecap="round"/>
<path d="M323.5 1111.5L357.6 1145.6L361.6 1174.7L354 1172L333.5 1153.5Z" fill="#070709"/>
<path d="M323.5 1111.5L329.6 1117.2L340.5 1152.5L333.5 1153.5Z" fill="#7c7a84"/>
<path d="M333.5 1153.5L340.5 1152.5L360.2 1171.5L361.6 1174.7L354 1172Z" fill="#8a8894"/>
<path d="M357.6 1146L361.6 1174.7L358.6 1171L356 1150Z" fill="#34323a"/>
<path d="M324.5 1111.8L357.8 1145.4" fill="none" stroke="#a09ea8" stroke-width="1.6"/>
<path d="M840.8 1111.6L841.6 1139.6L816.8 1170L813 1171.2L811.2 1168.5L812 1141.2L828 1123.6Z" fill="#070709"/>
<path d="M812 1150.8L816 1152.4L816.8 1166L813.4 1170L811.4 1168Z" fill="#8a8a92"/>
<path d="M839.4 1113.5L840.8 1111.6L841.6 1139.6L840 1141.5Z" fill="#76747e"/>
<path d="M841.6 1139.6L816.8 1170L813 1171.2L812 1169L838.5 1139Z" fill="#3a3a42"/>
<path d="M394.8 1145.2Q401 1140.5 412.7 1135.6V1207Q412 1212 408 1213.2L404.5 1196Q402 1170 394.8 1145.2Z" fill="#55555c"/>
<path d="M394.8 1145.6L398 1154L401.5 1168" fill="none" stroke="#3c3c44" stroke-width="2" stroke-linecap="round"/>
<path d="M396.6 1146L399.6 1154L402.6 1166" fill="none" stroke="#8c8c94" stroke-width="1.4" stroke-linecap="round"/>
<path d="M764.7 1139.6L772.4 1147.6L772 1156Q770 1185 768.2 1211L764.7 1203Z" fill="#44444c"/>
<path d="M766.4 1142L771.6 1147.8L771.4 1154L770 1166" fill="none" stroke="#a8a8b0" stroke-width="1.5" stroke-linecap="round"/>
<g font-weight="bold" font-size="45" fill="#bcbcbe"><text x="398.30" y="455.00" textLength="159" lengthAdjust="spacingAndGlyphs">Total</text><text x="571.80" y="455.00" textLength="196" lengthAdjust="spacingAndGlyphs">Mount</text></g>
<g font-weight="bold" font-size="45" fill="#a4a4a6"><text x="395.70" y="455.00" textLength="159" lengthAdjust="spacingAndGlyphs">Total</text><text x="569.20" y="455.00" textLength="196" lengthAdjust="spacingAndGlyphs">Mount</text></g>
<g font-weight="bold" font-size="45" fill="#030305"><text x="397.00" y="455.40" textLength="159" lengthAdjust="spacingAndGlyphs">Total</text><text x="570.50" y="455.40" textLength="196" lengthAdjust="spacingAndGlyphs">Mount</text></g>
<g font-weight="bold" font-size="45" fill="#030305"><text x="397.00" y="454.60" textLength="159" lengthAdjust="spacingAndGlyphs">Total</text><text x="570.50" y="454.60" textLength="196" lengthAdjust="spacingAndGlyphs">Mount</text></g>
</g>
<!-- callout lines -->
<g id="lines" fill="none" stroke="#4ac2f1" stroke-width="6">
<path d="M789 437.6H1368.8"/>
<path d="M505.8 1101V702.4H1326.8"/>
<path d="M747.8 1153V966.9H1301.8"/>
<path d="M630.8 1228.2H1277"/>
</g>
<g id="dots" fill="#4ac2f1">
<circle cx="789.5" cy="437.5" r="13.5"/>
<circle cx="505.8" cy="1101.7" r="13.4"/>
<circle cx="748.2" cy="1153.3" r="13.4"/>
<path d="M633.3 1226H692.5V1326H737.5L664 1453L588.7 1326H633.3Z"/>
</g>
<!-- callout text -->
<g id="labels" fill="#000" font-size="46">
<text x="1018.29" y="491.4" textLength="193.65" lengthAdjust="spacingAndGlyphs">Premium</text>
<text x="1222.41" y="491.4" textLength="141.51" lengthAdjust="spacingAndGlyphs">design</text>
<text x="1018.40" y="550.8" textLength="80.75" lengthAdjust="spacingAndGlyphs">and</text>
<text x="1110.64" y="550.8" textLength="193.53" lengthAdjust="spacingAndGlyphs">materials</text>
<text x="1020.50" y="756.0" textLength="115.35" lengthAdjust="spacingAndGlyphs">Vents</text>
<text x="1147.57" y="756.0" textLength="45.23" lengthAdjust="spacingAndGlyphs">to</text>
<text x="1201.62" y="756.0" textLength="117.30" lengthAdjust="spacingAndGlyphs">avoid</text>
<text x="1020.15" y="816.3" textLength="182.91" lengthAdjust="spacingAndGlyphs">trapping</text>
<text x="1214.90" y="816.3" textLength="91.30" lengthAdjust="spacingAndGlyphs">dust</text>
<text x="1018.42" y="1020.5" textLength="117.22" lengthAdjust="spacingAndGlyphs">Open</text>
<text x="1147.60" y="1020.5" textLength="87.47" lengthAdjust="spacingAndGlyphs">area</text>
<text x="1020.06" y="1080.3" textLength="45.78" lengthAdjust="spacingAndGlyphs">to</text>
<text x="1074.99" y="1080.3" textLength="115.61" lengthAdjust="spacingAndGlyphs">reach</text>
<text x="1202.71" y="1080.3" textLength="90.06" lengthAdjust="spacingAndGlyphs">tabs</text>
<text x="1017.90" y="1282.0" textLength="251.67" lengthAdjust="spacingAndGlyphs">Removable,</text>
<text x="1020.50" y="1342.0" textLength="64.39" lengthAdjust="spacingAndGlyphs">yet</text>
<text x="1096.76" y="1342.0" textLength="137.31" lengthAdjust="spacingAndGlyphs">secure</text>
</g>
<!-- footnote -->
<g id="foot" fill="#7e7e7e" font-size="28.5">
<text x="0.66" y="1421.6" textLength="139.66" lengthAdjust="spacingAndGlyphs">Removable</text>
<text x="146.82" y="1421.6" textLength="111.85" lengthAdjust="spacingAndGlyphs">adhesive</text>
<text x="265.53" y="1421.6" textLength="17.16" lengthAdjust="spacingAndGlyphs">is</text>
<text x="289.59" y="1421.6" textLength="116.92" lengthAdjust="spacingAndGlyphs">designed</text>
<text x="413.80" y="1421.6" textLength="32.86" lengthAdjust="spacingAndGlyphs">for</text>
<text x="0.79" y="1457.8" textLength="41.68" lengthAdjust="spacingAndGlyphs">use</text>
<text x="50.21" y="1457.8" textLength="31.48" lengthAdjust="spacingAndGlyphs">on</text>
<text x="89.10" y="1457.8" textLength="98.09" lengthAdjust="spacingAndGlyphs">painted</text>
<text x="193.60" y="1457.8" textLength="62.13" lengthAdjust="spacingAndGlyphs">walls</text>
<text x="262.07" y="1457.8" textLength="55.11" lengthAdjust="spacingAndGlyphs">(and</text>
<text x="324.80" y="1457.8" textLength="83.57" lengthAdjust="spacingAndGlyphs">should</text>
<text x="415.41" y="1457.8" textLength="43.38" lengthAdjust="spacingAndGlyphs">not</text>
<text x="0.61" y="1493.6" textLength="31.48" lengthAdjust="spacingAndGlyphs">be</text>
<text x="38.01" y="1493.6" textLength="61.39" lengthAdjust="spacingAndGlyphs">used</text>
<text x="106.17" y="1493.6" textLength="32.58" lengthAdjust="spacingAndGlyphs">on</text>
<text x="145.60" y="1493.6" textLength="121.60" lengthAdjust="spacingAndGlyphs">wallpaper</text>
<text x="275.87" y="1493.6" textLength="23.65" lengthAdjust="spacingAndGlyphs">or</text>
<text x="307.78" y="1493.6" textLength="131.41" lengthAdjust="spacingAndGlyphs">outdoors).</text>
</g>
</svg>
</body>
</html>
